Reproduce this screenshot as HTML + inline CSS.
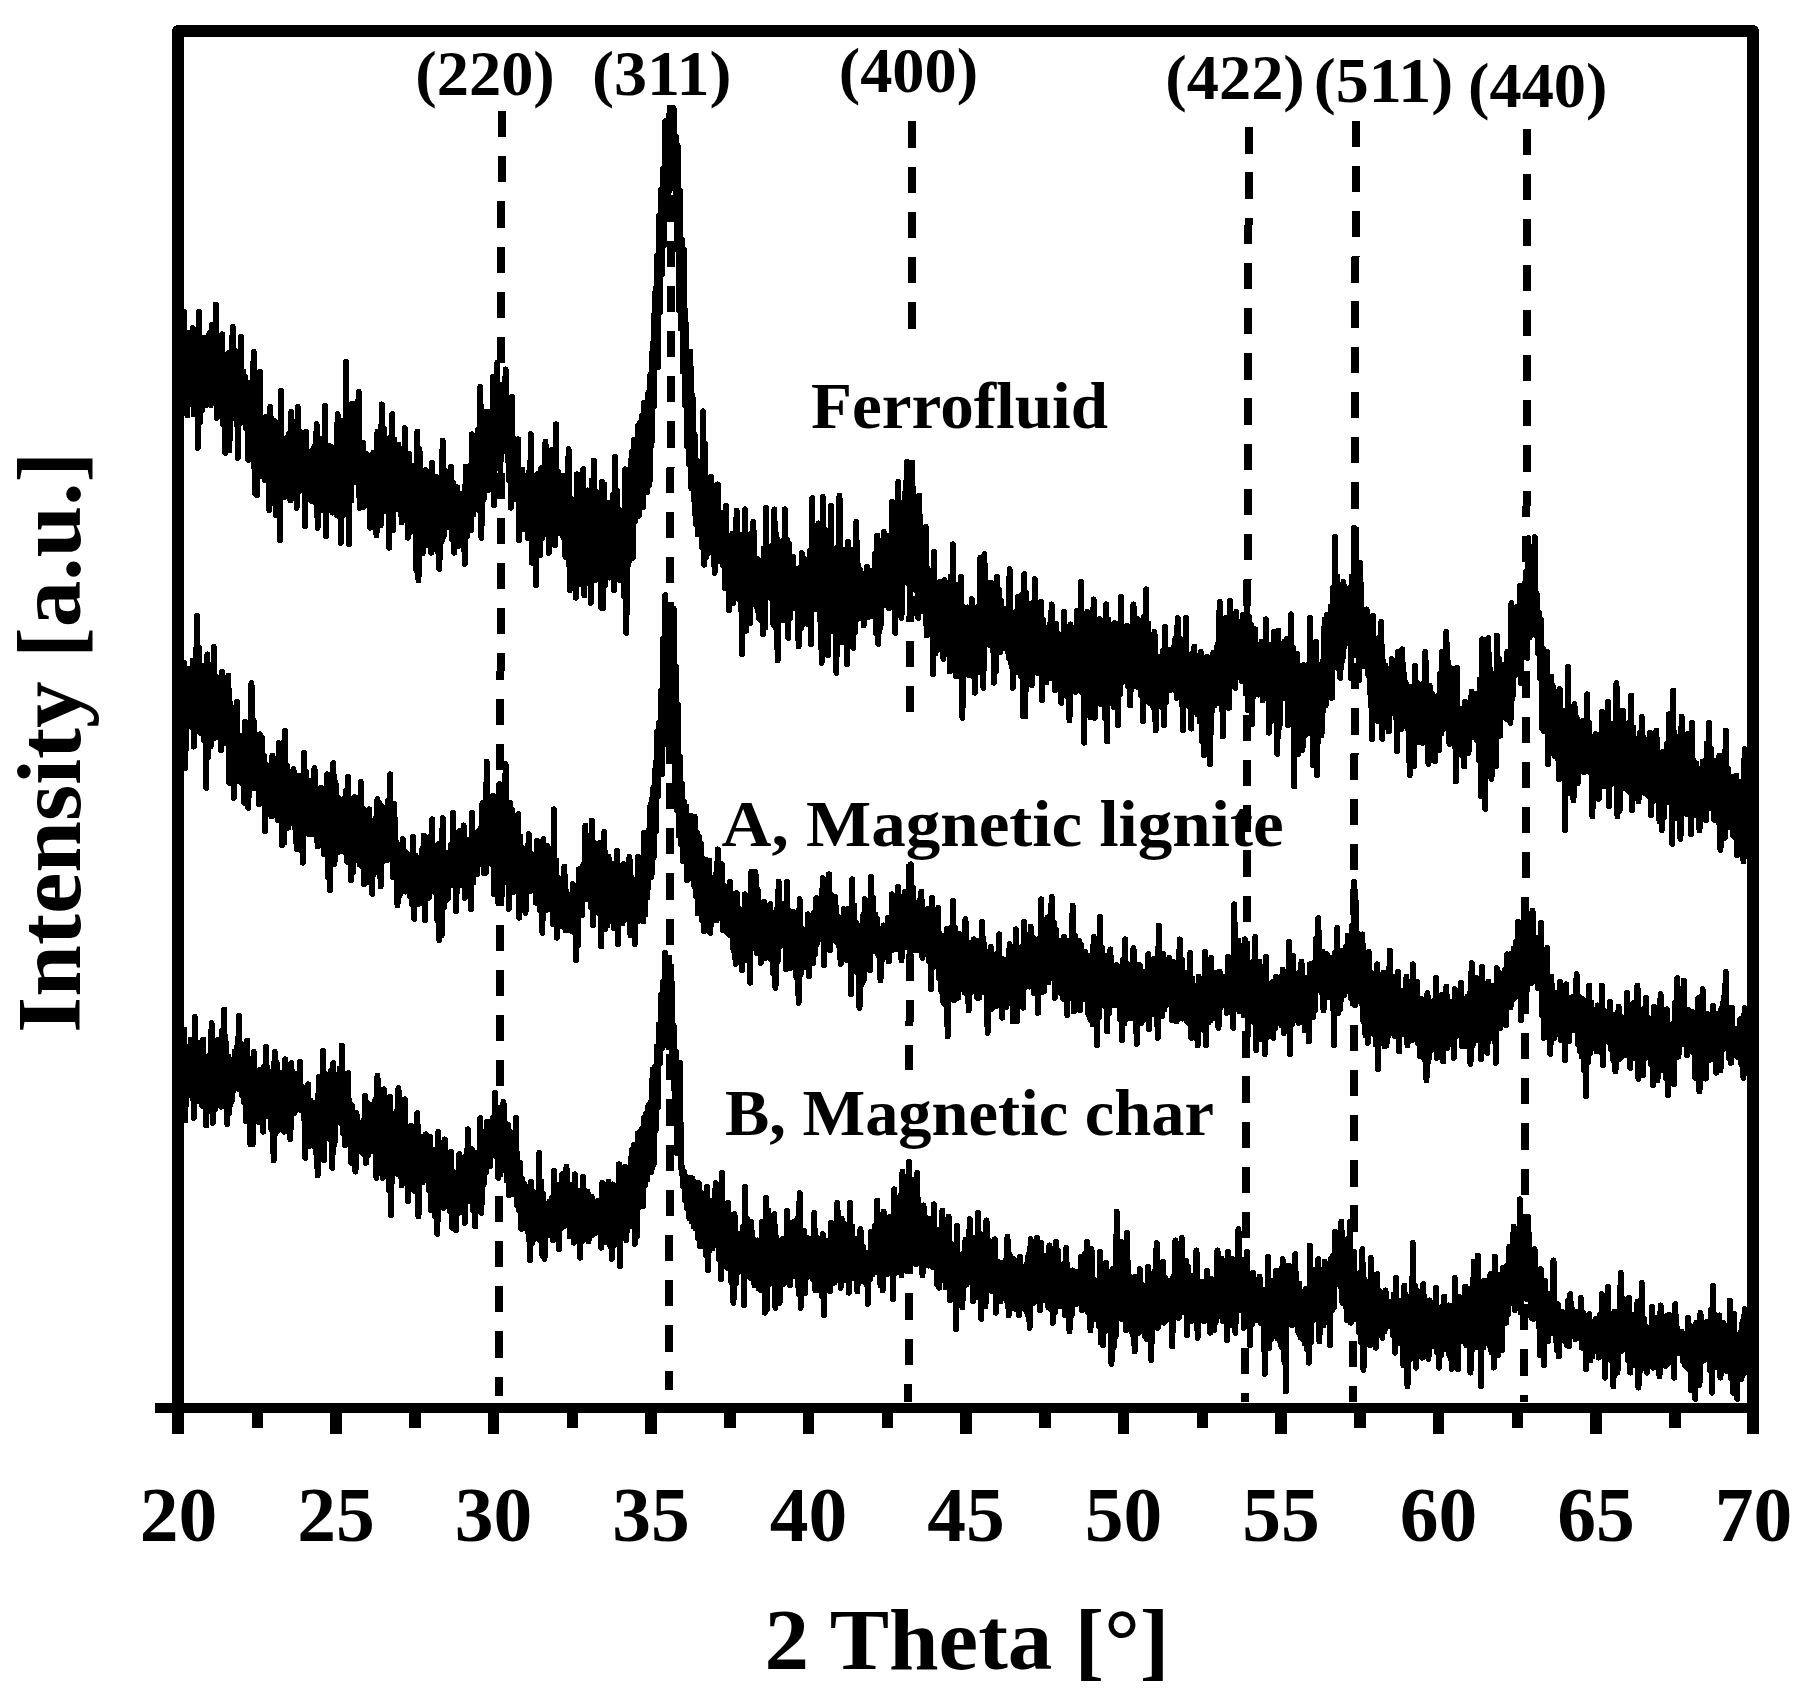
<!DOCTYPE html>
<html lang="en"><head><meta charset="utf-8"><title>XRD patterns</title>
<style>html,body{margin:0;padding:0;background:#fff}svg{display:block}text{font-family:"Liberation Serif","DejaVu Serif",serif;font-weight:bold;fill:#000}</style></head><body>
<svg width="1802" height="1691" viewBox="0 0 1802 1691" shape-rendering="crispEdges">
<rect width="1802" height="1691" fill="#fff"/>
<g stroke="#000" stroke-width="8" stroke-dasharray="26.3 18.9" fill="none">
<line x1="501.7" y1="111.0" x2="499.0" y2="1395.8"/>
<line x1="671.0" y1="105.0" x2="669.3" y2="1390.0"/>
<line x1="912.3" y1="121.5" x2="911.8" y2="328.6"/>
<line x1="910.9" y1="460.2" x2="910.3" y2="712.5"/>
<line x1="909.9" y1="864.1" x2="909.4" y2="1070.5"/>
<line x1="909.1" y1="1203.0" x2="908.4" y2="1402.0"/>
<line x1="1248.8" y1="127.3" x2="1245.2" y2="1402.0"/>
<line x1="1355.8" y1="120.7" x2="1353.2" y2="1402.0"/>
<line x1="1527.5" y1="129.0" x2="1524.2" y2="1402.0"/>
</g>
<g stroke="#000" stroke-width="6" stroke-linejoin="round" stroke-linecap="round" fill="none">
<path d="M178.0,343.6 L179.1,394.9 L180.1,332.8 L181.2,399.6 L182.2,327.1 L183.2,390.1 L184.3,312.0 L185.3,396.3 L186.4,335.9 L187.4,415.3 L188.5,337.8 L189.6,385.2 L190.6,332.6 L191.7,391.2 L192.7,328.1 L193.8,414.4 L194.8,343.7 L195.8,408.4 L196.9,335.5 L197.9,447.8 L199.0,312.0 L200.1,422.4 L201.1,359.4 L202.2,409.9 L203.2,338.2 L204.2,400.6 L205.3,337.5 L206.3,404.9 L207.4,347.3 L208.4,389.5 L209.5,333.3 L210.6,405.1 L211.6,325.1 L212.7,382.6 L213.7,329.6 L214.8,392.7 L215.8,304.5 L216.8,417.8 L217.9,349.9 L218.9,401.1 L220.0,361.2 L221.1,405.8 L222.1,334.4 L223.2,424.9 L224.2,357.7 L225.2,452.8 L226.3,375.3 L227.3,413.0 L228.4,353.0 L229.4,450.3 L230.5,365.0 L231.6,418.8 L232.6,326.9 L233.7,411.4 L234.7,350.3 L235.8,409.2 L236.8,354.3 L237.8,457.8 L238.9,370.5 L239.9,423.2 L241.0,336.9 L242.1,420.0 L243.1,371.4 L244.2,417.9 L245.2,377.2 L246.2,428.9 L247.3,384.8 L248.4,459.9 L249.4,382.9 L250.4,456.4 L251.5,387.1 L252.6,454.9 L253.6,351.9 L254.7,492.8 L255.7,396.3 L256.8,495.3 L257.8,405.1 L258.9,475.4 L259.9,371.9 L260.9,475.7 L262.0,421.6 L263.1,457.1 L264.1,425.9 L265.1,480.2 L266.2,416.5 L267.2,477.2 L268.3,427.8 L269.4,510.2 L270.4,406.9 L271.4,481.5 L272.5,435.8 L273.6,502.4 L274.6,421.0 L275.6,514.9 L276.7,437.4 L277.8,496.4 L278.8,435.4 L279.9,540.2 L280.9,390.6 L281.9,488.1 L283.0,445.2 L284.1,497.2 L285.1,445.6 L286.1,491.4 L287.2,437.6 L288.2,476.4 L289.3,433.8 L290.4,500.3 L291.4,411.9 L292.4,468.5 L293.5,440.1 L294.6,490.6 L295.6,435.0 L296.6,507.8 L297.7,406.9 L298.8,491.3 L299.8,431.4 L300.9,488.9 L301.9,453.6 L302.9,487.9 L304.0,460.1 L305.1,526.5 L306.1,431.8 L307.1,493.1 L308.2,466.5 L309.2,494.6 L310.3,460.6 L311.4,500.9 L312.4,450.2 L313.5,491.2 L314.5,446.5 L315.6,502.3 L316.6,424.3 L317.6,527.7 L318.7,444.4 L319.8,510.2 L320.8,438.7 L321.9,510.5 L322.9,447.3 L324.0,487.4 L325.0,405.6 L326.1,536.5 L327.1,453.8 L328.1,502.1 L329.2,446.3 L330.2,496.5 L331.3,447.1 L332.4,512.6 L333.4,453.1 L334.5,492.9 L335.5,461.3 L336.6,515.0 L337.6,414.3 L338.6,509.5 L339.7,451.2 L340.8,542.7 L341.8,420.8 L342.9,515.4 L343.9,426.5 L345.0,493.6 L346.0,361.9 L347.1,500.3 L348.1,418.1 L349.1,544.0 L350.2,417.9 L351.2,500.7 L352.3,403.8 L353.4,482.4 L354.4,404.1 L355.5,479.2 L356.5,413.4 L357.6,470.4 L358.6,391.9 L359.6,507.8 L360.7,448.1 L361.8,499.4 L362.8,442.6 L363.9,506.9 L364.9,469.9 L366.0,503.7 L367.0,454.3 L368.1,504.5 L369.1,464.0 L370.1,527.7 L371.2,472.6 L372.2,505.1 L373.3,452.9 L374.4,507.0 L375.4,456.2 L376.5,535.2 L377.5,431.8 L378.6,516.8 L379.6,441.7 L380.6,525.2 L381.7,404.4 L382.8,492.5 L383.8,428.5 L384.9,510.8 L385.9,455.1 L387.0,496.4 L388.0,448.2 L389.1,547.7 L390.1,438.1 L391.1,496.2 L392.2,414.3 L393.2,529.8 L394.3,439.6 L395.4,509.0 L396.4,462.7 L397.5,504.1 L398.5,444.8 L399.6,509.2 L400.6,464.1 L401.6,522.2 L402.7,461.8 L403.8,507.8 L404.8,428.1 L405.9,502.9 L406.9,465.4 L408.0,537.7 L409.0,453.6 L410.1,532.0 L411.1,465.7 L412.1,512.5 L413.2,465.6 L414.2,517.6 L415.3,473.8 L416.4,570.2 L417.4,431.8 L418.5,580.2 L419.5,449.3 L420.6,545.8 L421.6,474.5 L422.6,553.1 L423.7,484.2 L424.8,537.9 L425.8,470.1 L426.9,545.0 L427.9,487.3 L429.0,540.9 L430.0,487.3 L431.1,552.7 L432.1,463.0 L433.1,536.6 L434.2,492.9 L435.2,530.8 L436.3,477.3 L437.4,551.2 L438.4,483.9 L439.4,568.9 L440.5,487.9 L441.6,541.1 L442.6,440.6 L443.7,536.1 L444.7,470.6 L445.8,524.7 L446.8,473.3 L447.9,527.5 L448.9,492.5 L449.9,524.4 L451.0,466.8 L452.1,539.0 L453.1,482.8 L454.2,552.7 L455.2,496.7 L456.2,534.4 L457.3,487.4 L458.4,546.2 L459.4,497.7 L460.4,539.0 L461.5,493.7 L462.6,539.4 L463.6,493.0 L464.7,563.9 L465.7,466.8 L466.8,536.4 L467.8,489.4 L468.9,519.6 L469.9,465.6 L470.9,530.2 L472.0,434.3 L473.1,514.6 L474.1,447.7 L475.2,492.7 L476.2,450.8 L477.2,493.6 L478.3,429.2 L479.4,510.8 L480.4,386.9 L481.4,537.7 L482.5,425.3 L483.6,499.3 L484.6,412.1 L485.7,475.7 L486.7,414.2 L487.8,490.4 L488.8,411.5 L489.9,481.9 L490.9,412.3 L491.9,474.5 L493.0,376.9 L494.1,505.3 L495.1,390.0 L496.2,439.8 L497.2,363.1 L498.2,443.7 L499.3,386.3 L500.4,470.3 L501.4,396.8 L502.4,447.3 L503.5,401.3 L504.6,449.5 L505.6,369.4 L506.7,450.4 L507.7,413.7 L508.8,480.3 L509.8,415.4 L510.9,507.8 L511.9,396.9 L513.0,477.1 L514.0,438.9 L515.0,499.1 L516.1,443.6 L517.2,499.8 L518.2,439.3 L519.2,540.2 L520.3,477.2 L521.4,522.8 L522.4,469.6 L523.5,528.9 L524.5,475.4 L525.5,529.4 L526.6,476.0 L527.7,537.8 L528.7,471.8 L529.8,524.5 L530.8,434.3 L531.9,562.7 L532.9,482.4 L534.0,555.6 L535.0,496.0 L536.0,585.2 L537.1,474.3 L538.2,551.7 L539.2,486.5 L540.2,555.2 L541.3,468.4 L542.4,537.9 L543.4,482.9 L544.5,525.5 L545.5,441.8 L546.5,514.2 L547.6,460.7 L548.7,552.7 L549.7,469.2 L550.8,524.2 L551.8,450.1 L552.9,507.5 L553.9,467.8 L555.0,545.2 L556.0,424.3 L557.0,532.5 L558.1,471.6 L559.2,533.3 L560.2,480.6 L561.2,517.4 L562.3,475.7 L563.4,537.4 L564.4,478.6 L565.5,557.0 L566.5,489.2 L567.5,539.6 L568.6,449.3 L569.7,590.2 L570.7,498.3 L571.8,553.0 L572.8,500.8 L573.9,553.1 L574.9,500.1 L576.0,597.7 L577.0,474.3 L578.0,569.1 L579.1,499.2 L580.2,584.2 L581.2,513.4 L582.2,552.3 L583.3,469.3 L584.4,595.2 L585.4,495.0 L586.5,569.4 L587.5,490.4 L588.5,572.1 L589.6,500.4 L590.7,602.7 L591.7,480.4 L592.8,572.3 L593.8,460.6 L594.9,580.1 L595.9,491.9 L597.0,561.7 L598.0,494.1 L599.0,576.9 L600.1,512.1 L601.2,607.7 L602.2,481.8 L603.2,607.8 L604.3,484.4 L605.4,584.7 L606.4,509.4 L607.5,565.6 L608.5,503.1 L609.5,577.6 L610.6,504.7 L611.7,566.3 L612.7,495.3 L613.8,590.3 L614.8,456.9 L615.9,566.3 L616.9,490.4 L618.0,578.0 L619.0,509.8 L620.0,579.9 L621.1,521.5 L622.2,571.4 L623.2,526.4 L624.2,596.5 L625.3,469.4 L626.4,632.8 L627.4,488.2 L628.5,564.7 L629.5,499.6 L630.5,534.4 L631.6,452.0 L632.7,557.8 L633.7,440.0 L634.8,521.2 L635.8,457.5 L636.9,515.2 L637.9,426.1 L639.0,515.7 L640.0,423.0 L641.0,489.9 L642.1,415.3 L643.2,507.0 L644.2,403.0 L645.2,492.0 L646.3,431.8 L647.4,491.8 L648.4,392.8 L649.5,485.1 L650.5,374.2 L651.5,445.4 L652.6,342.9 L653.7,406.7 L654.7,293.4 L655.8,361.6 L656.8,255.9 L657.9,367.3 L658.9,215.9 L660.0,312.4 L661.0,189.9 L662.0,273.9 L663.1,169.0 L664.2,245.0 L665.2,121.2 L666.2,184.7 L667.3,124.9 L668.4,203.7 L669.4,113.8 L670.5,188.2 L671.5,112.7 L672.5,180.0 L673.6,108.3 L674.7,184.1 L675.7,136.4 L676.8,245.4 L677.8,146.0 L678.9,310.3 L679.9,190.7 L681.0,328.7 L682.0,239.8 L683.0,371.7 L684.1,249.9 L685.2,405.8 L686.2,323.8 L687.2,446.6 L688.3,371.9 L689.4,465.0 L690.4,351.7 L691.5,488.5 L692.5,395.3 L693.6,499.6 L694.6,434.6 L695.6,523.9 L696.7,460.1 L697.8,534.5 L698.8,478.3 L699.9,530.7 L700.9,466.6 L702.0,546.9 L703.0,411.4 L704.1,564.6 L705.1,443.7 L706.1,556.8 L707.2,477.9 L708.2,552.8 L709.3,503.4 L710.4,531.1 L711.4,476.9 L712.5,535.4 L713.5,503.8 L714.6,572.8 L715.6,500.1 L716.6,548.6 L717.7,484.4 L718.8,560.9 L719.8,521.1 L720.9,554.6 L721.9,513.3 L723.0,565.2 L724.0,525.3 L725.1,588.0 L726.1,505.6 L727.1,582.4 L728.2,535.8 L729.2,610.3 L730.3,538.8 L731.4,569.9 L732.4,533.9 L733.5,602.8 L734.5,541.0 L735.6,575.6 L736.6,510.6 L737.6,584.1 L738.7,534.2 L739.8,599.5 L740.8,536.0 L741.9,654.0 L742.9,535.0 L744.0,616.7 L745.0,509.4 L746.1,630.7 L747.1,563.1 L748.1,608.4 L749.2,550.6 L750.2,622.8 L751.3,533.3 L752.4,603.9 L753.4,521.9 L754.5,593.5 L755.5,564.3 L756.6,606.7 L757.6,559.1 L758.6,617.8 L759.7,564.3 L760.8,620.1 L761.8,568.6 L762.9,634.0 L763.9,548.4 L765.0,627.8 L766.0,508.1 L767.1,595.5 L768.1,555.8 L769.1,591.6 L770.2,552.6 L771.2,598.0 L772.3,545.1 L773.4,624.6 L774.4,509.4 L775.5,628.0 L776.5,534.9 L777.6,660.2 L778.6,549.8 L779.6,597.8 L780.7,547.4 L781.8,619.7 L782.8,541.1 L783.9,620.4 L784.9,509.4 L786.0,610.9 L787.0,539.5 L788.1,637.8 L789.1,543.7 L790.1,617.8 L791.2,558.8 L792.2,597.4 L793.3,556.8 L794.4,607.8 L795.4,568.4 L796.5,608.6 L797.5,578.8 L798.6,646.5 L799.6,577.2 L800.6,628.9 L801.7,553.1 L802.8,624.8 L803.8,558.9 L804.9,622.4 L805.9,568.1 L807.0,623.6 L808.0,560.0 L809.1,603.4 L810.1,550.7 L811.1,644.0 L812.2,498.2 L813.2,594.4 L814.3,527.7 L815.4,609.0 L816.4,553.6 L817.5,598.8 L818.5,523.5 L819.6,619.4 L820.6,525.4 L821.6,662.7 L822.7,496.9 L823.8,613.0 L824.8,529.9 L825.9,603.7 L826.9,545.7 L828.0,655.2 L829.0,557.8 L830.1,606.3 L831.1,505.6 L832.1,631.0 L833.2,554.1 L834.2,624.4 L835.3,554.9 L836.4,672.7 L837.4,547.2 L838.5,607.4 L839.5,495.7 L840.6,613.8 L841.6,559.8 L842.6,642.3 L843.7,549.7 L844.8,621.3 L845.8,567.3 L846.9,664.0 L847.9,541.9 L849.0,630.5 L850.0,577.1 L851.1,637.2 L852.1,550.2 L853.1,647.8 L854.2,563.7 L855.2,632.2 L856.3,521.9 L857.4,618.7 L858.4,565.3 L859.5,611.8 L860.5,570.3 L861.6,611.1 L862.6,578.5 L863.6,625.3 L864.7,583.7 L865.8,612.6 L866.8,566.8 L867.9,617.5 L868.9,573.9 L870.0,605.2 L871.0,570.9 L872.1,615.9 L873.1,571.9 L874.1,609.9 L875.2,553.7 L876.2,633.0 L877.3,535.6 L878.4,644.0 L879.4,557.0 L880.5,627.8 L881.5,552.0 L882.6,598.3 L883.6,531.9 L884.6,605.2 L885.7,561.3 L886.8,603.4 L887.8,552.9 L888.9,608.2 L889.9,535.4 L891.0,597.9 L892.0,501.9 L893.1,596.8 L894.1,523.7 L895.1,632.8 L896.2,534.2 L897.2,601.3 L898.3,481.9 L899.4,574.5 L900.4,528.7 L901.5,617.8 L902.5,517.8 L903.6,578.6 L904.6,493.8 L905.6,573.7 L906.7,461.9 L907.8,583.0 L908.8,497.7 L909.9,617.8 L910.9,502.3 L912.0,557.1 L913.0,488.2 L914.1,559.3 L915.1,529.0 L916.1,590.3 L917.2,520.0 L918.2,617.8 L919.3,495.7 L920.4,592.4 L921.4,546.4 L922.5,611.3 L923.5,542.7 L924.6,596.6 L925.6,526.9 L926.6,635.3 L927.7,568.9 L928.8,625.7 L929.8,577.5 L930.9,632.1 L931.9,591.2 L933.0,674.0 L934.0,551.9 L935.1,653.7 L936.1,585.8 L937.1,650.5 L938.2,595.4 L939.2,646.1 L940.3,581.8 L941.4,642.8 L942.4,597.7 L943.5,659.0 L944.5,580.2 L945.6,638.2 L946.6,583.2 L947.6,642.5 L948.7,583.9 L949.8,671.5 L950.8,576.7 L951.9,652.3 L952.9,544.4 L954.0,636.8 L955.0,588.6 L956.1,675.9 L957.1,584.5 L958.1,666.2 L959.2,611.3 L960.2,676.0 L961.3,576.8 L962.4,717.7 L963.4,630.9 L964.5,664.0 L965.5,622.8 L966.6,662.9 L967.6,607.4 L968.6,674.9 L969.7,626.6 L970.8,665.2 L971.8,599.3 L972.9,675.9 L973.9,621.0 L975.0,692.7 L976.0,611.8 L977.1,672.7 L978.1,606.9 L979.1,632.6 L980.2,558.1 L981.2,656.6 L982.3,580.7 L983.4,687.7 L984.4,554.3 L985.5,640.1 L986.5,595.7 L987.6,643.4 L988.6,586.9 L989.7,645.0 L990.7,582.5 L991.8,646.1 L992.8,598.9 L993.9,682.7 L994.9,598.7 L996.0,671.3 L997.0,576.8 L998.1,649.0 L999.1,589.8 L1000.2,652.0 L1001.2,601.0 L1002.2,648.5 L1003.3,613.1 L1004.4,647.0 L1005.4,609.2 L1006.5,648.8 L1007.5,610.9 L1008.6,657.8 L1009.6,569.3 L1010.7,662.6 L1011.7,613.8 L1012.8,687.7 L1013.8,612.6 L1014.9,664.2 L1015.9,612.2 L1017.0,671.7 L1018.0,597.1 L1019.1,666.7 L1020.1,618.9 L1021.2,676.8 L1022.2,594.3 L1023.2,716.4 L1024.3,574.3 L1025.3,716.4 L1026.4,593.0 L1027.5,671.3 L1028.5,621.0 L1029.6,655.4 L1030.6,611.9 L1031.7,685.2 L1032.7,603.2 L1033.8,667.7 L1034.8,579.3 L1035.8,661.8 L1036.9,614.6 L1038.0,672.8 L1039.0,627.4 L1040.1,670.6 L1041.1,601.9 L1042.2,700.3 L1043.2,620.2 L1044.2,670.5 L1045.3,636.3 L1046.3,682.4 L1047.4,636.6 L1048.5,676.1 L1049.5,624.7 L1050.6,678.1 L1051.6,604.4 L1052.7,661.7 L1053.7,623.3 L1054.8,690.3 L1055.8,623.5 L1056.8,680.1 L1057.9,634.0 L1059.0,678.7 L1060.0,636.5 L1061.1,702.8 L1062.1,635.1 L1063.2,679.0 L1064.2,611.9 L1065.2,671.9 L1066.3,636.7 L1067.3,696.6 L1068.4,654.0 L1069.5,720.3 L1070.5,624.4 L1071.6,686.6 L1072.6,642.1 L1073.7,685.4 L1074.7,647.4 L1075.8,691.9 L1076.8,611.1 L1077.8,676.4 L1078.9,617.5 L1080.0,660.7 L1081.0,581.9 L1082.1,692.8 L1083.1,627.7 L1084.2,742.7 L1085.2,623.7 L1086.2,700.9 L1087.3,611.9 L1088.3,697.0 L1089.4,646.6 L1090.5,717.5 L1091.5,641.0 L1092.6,689.4 L1093.6,599.4 L1094.7,717.8 L1095.7,622.9 L1096.8,677.6 L1097.8,645.2 L1098.8,703.0 L1099.9,619.2 L1101.0,704.3 L1102.0,634.5 L1103.1,690.6 L1104.1,646.4 L1105.2,718.4 L1106.2,604.4 L1107.2,741.5 L1108.3,619.7 L1109.3,691.0 L1110.4,631.1 L1111.5,699.8 L1112.5,625.1 L1113.6,706.9 L1114.6,623.0 L1115.7,699.0 L1116.7,623.5 L1117.8,725.3 L1118.8,625.5 L1119.8,694.6 L1120.9,596.9 L1122.0,682.4 L1123.0,634.8 L1124.1,679.8 L1125.1,642.5 L1126.2,674.2 L1127.2,625.7 L1128.2,686.9 L1129.3,632.8 L1130.3,705.3 L1131.4,631.5 L1132.5,682.4 L1133.5,604.4 L1134.6,685.7 L1135.6,640.7 L1136.7,685.7 L1137.7,619.1 L1138.8,687.4 L1139.8,629.3 L1140.8,695.1 L1141.9,629.9 L1143.0,721.5 L1144.0,616.4 L1145.1,680.6 L1146.1,589.4 L1147.2,696.4 L1148.2,623.5 L1149.2,702.7 L1150.3,634.7 L1151.3,693.4 L1152.4,643.7 L1153.5,707.7 L1154.5,631.9 L1155.6,730.2 L1156.6,659.5 L1157.7,701.3 L1158.7,656.5 L1159.8,695.7 L1160.8,658.0 L1161.8,707.3 L1162.9,650.6 L1164.0,725.3 L1165.0,626.9 L1166.1,702.3 L1167.1,656.5 L1168.2,690.5 L1169.2,649.8 L1170.2,689.8 L1171.3,653.2 L1172.3,681.1 L1173.4,647.8 L1174.5,680.9 L1175.5,638.6 L1176.6,697.8 L1177.6,618.1 L1178.7,673.0 L1179.7,638.7 L1180.8,693.1 L1181.8,652.3 L1182.8,730.2 L1183.9,652.7 L1185.0,695.6 L1186.0,618.1 L1187.1,689.6 L1188.1,661.7 L1189.2,706.3 L1190.2,656.9 L1191.2,728.6 L1192.3,653.5 L1193.3,711.5 L1194.4,646.5 L1195.5,712.2 L1196.5,668.9 L1197.6,714.5 L1198.6,685.6 L1199.7,721.5 L1200.7,651.8 L1201.8,740.7 L1202.8,678.4 L1203.9,755.2 L1204.9,675.7 L1206.0,733.6 L1207.0,656.8 L1208.0,728.1 L1209.1,670.3 L1210.2,764.0 L1211.2,671.5 L1212.2,711.3 L1213.3,653.0 L1214.4,705.5 L1215.4,655.7 L1216.5,698.7 L1217.5,644.9 L1218.5,703.5 L1219.6,601.9 L1220.7,697.1 L1221.7,643.4 L1222.8,736.5 L1223.8,635.6 L1224.9,686.5 L1225.9,617.8 L1227.0,694.0 L1228.0,627.8 L1229.0,707.8 L1230.1,600.6 L1231.2,681.5 L1232.2,638.5 L1233.2,667.8 L1234.3,638.2 L1235.4,687.8 L1236.4,611.9 L1237.5,675.2 L1238.5,623.1 L1239.5,676.7 L1240.6,626.7 L1241.7,681.1 L1242.7,615.0 L1243.8,681.0 L1244.8,630.4 L1245.9,692.9 L1246.9,581.9 L1248.0,710.3 L1249.0,617.1 L1250.0,686.7 L1251.1,624.6 L1252.2,724.0 L1253.2,644.9 L1254.2,688.8 L1255.3,629.4 L1256.4,694.2 L1257.4,648.3 L1258.5,694.6 L1259.5,658.6 L1260.5,691.3 L1261.6,641.6 L1262.7,700.3 L1263.7,653.8 L1264.8,691.2 L1265.8,619.4 L1266.9,693.9 L1267.9,658.8 L1269.0,732.7 L1270.0,645.4 L1271.0,721.2 L1272.1,657.6 L1273.2,713.8 L1274.2,631.9 L1275.2,715.3 L1276.3,666.2 L1277.4,754.0 L1278.4,630.6 L1279.5,727.8 L1280.5,652.5 L1281.5,696.3 L1282.6,661.2 L1283.7,695.4 L1284.7,641.6 L1285.8,698.6 L1286.8,639.1 L1287.9,725.3 L1288.9,641.3 L1290.0,702.3 L1291.0,614.4 L1292.0,684.6 L1293.1,647.8 L1294.2,786.4 L1295.2,669.6 L1296.2,736.0 L1297.3,654.3 L1298.4,754.0 L1299.4,701.2 L1300.5,743.1 L1301.5,666.0 L1302.5,749.7 L1303.6,665.0 L1304.7,735.5 L1305.7,680.5 L1306.8,724.4 L1307.8,674.9 L1308.9,732.9 L1309.9,618.1 L1311.0,716.8 L1312.0,681.6 L1313.0,765.2 L1314.1,672.6 L1315.2,723.9 L1316.2,641.8 L1317.2,775.2 L1318.3,668.4 L1319.4,713.0 L1320.4,665.5 L1321.5,735.2 L1322.5,661.9 L1323.5,710.8 L1324.6,619.4 L1325.7,705.2 L1326.7,615.1 L1327.8,697.3 L1328.8,627.2 L1329.9,666.7 L1330.9,606.4 L1332.0,697.8 L1333.0,588.1 L1334.0,650.9 L1335.1,536.9 L1336.2,651.8 L1337.2,576.5 L1338.2,668.0 L1339.3,585.0 L1340.4,677.8 L1341.4,605.7 L1342.5,660.6 L1343.5,581.9 L1344.5,647.0 L1345.6,598.1 L1346.7,636.1 L1347.7,594.5 L1348.8,629.9 L1349.8,587.9 L1350.9,677.8 L1351.9,576.3 L1353.0,626.1 L1354.0,528.2 L1355.0,654.8 L1356.1,529.5 L1357.2,650.3 L1358.2,597.0 L1359.2,680.3 L1360.3,563.2 L1361.4,662.3 L1362.4,614.5 L1363.5,665.9 L1364.5,627.2 L1365.5,659.5 L1366.6,609.4 L1367.7,673.4 L1368.7,634.8 L1369.8,692.8 L1370.8,650.6 L1371.9,739.0 L1372.9,615.6 L1374.0,703.6 L1375.0,649.8 L1376.0,693.9 L1377.1,657.7 L1378.2,721.1 L1379.2,637.8 L1380.2,710.7 L1381.3,621.9 L1382.4,739.0 L1383.4,661.5 L1384.5,706.3 L1385.5,665.6 L1386.5,723.6 L1387.6,672.7 L1388.7,731.5 L1389.7,671.2 L1390.8,707.6 L1391.8,659.3 L1392.9,713.2 L1393.9,684.6 L1395.0,711.1 L1396.0,686.6 L1397.0,751.5 L1398.1,651.9 L1399.2,723.2 L1400.2,682.6 L1401.2,729.0 L1402.3,649.4 L1403.4,714.5 L1404.4,674.8 L1405.5,721.6 L1406.5,684.8 L1407.5,728.7 L1408.6,699.8 L1409.7,775.2 L1410.7,686.8 L1411.8,759.1 L1412.8,692.4 L1413.9,766.5 L1414.9,665.6 L1416.0,734.5 L1417.0,682.3 L1418.0,742.3 L1419.1,685.0 L1420.2,725.9 L1421.2,688.5 L1422.2,742.8 L1423.3,683.3 L1424.4,723.5 L1425.4,651.9 L1426.5,729.5 L1427.5,698.5 L1428.5,764.0 L1429.6,685.9 L1430.7,736.1 L1431.7,693.1 L1432.8,746.1 L1433.8,706.4 L1434.9,761.5 L1435.9,699.1 L1437.0,743.5 L1438.0,695.8 L1439.0,750.2 L1440.1,673.3 L1441.2,733.7 L1442.2,651.9 L1443.2,728.9 L1444.3,667.9 L1445.4,706.2 L1446.4,631.9 L1447.5,726.3 L1448.5,662.7 L1449.5,744.0 L1450.6,676.2 L1451.7,723.3 L1452.7,669.2 L1453.8,738.7 L1454.8,689.5 L1455.9,781.5 L1456.9,668.1 L1458.0,744.1 L1459.0,714.0 L1460.0,744.9 L1461.1,709.4 L1462.2,755.5 L1463.2,720.6 L1464.2,766.5 L1465.3,701.8 L1466.4,740.3 L1467.4,721.2 L1468.5,752.7 L1469.5,714.0 L1470.5,733.8 L1471.6,691.8 L1472.7,737.4 L1473.7,708.5 L1474.8,732.8 L1475.8,698.1 L1476.9,739.9 L1477.9,693.5 L1479.0,759.8 L1480.0,679.3 L1481.0,796.5 L1482.1,639.4 L1483.2,758.0 L1484.2,670.9 L1485.2,808.9 L1486.3,699.2 L1487.4,758.1 L1488.4,638.1 L1489.5,770.7 L1490.5,669.2 L1491.5,778.8 L1492.6,683.9 L1493.7,753.7 L1494.7,688.3 L1495.8,766.5 L1496.8,635.6 L1497.9,732.0 L1498.9,658.5 L1500.0,735.8 L1501.0,670.5 L1502.0,709.4 L1503.1,664.5 L1504.2,715.5 L1505.2,672.7 L1506.2,718.7 L1507.3,651.9 L1508.4,712.8 L1509.4,652.4 L1510.5,722.8 L1511.5,603.1 L1512.5,698.6 L1513.6,621.6 L1514.7,675.5 L1515.7,621.6 L1516.8,667.4 L1517.8,606.7 L1518.9,652.0 L1519.9,585.7 L1521.0,682.8 L1522.0,606.1 L1523.0,657.2 L1524.1,594.9 L1525.2,632.2 L1526.2,571.8 L1527.2,657.8 L1528.3,538.2 L1529.4,637.5 L1530.4,571.6 L1531.5,634.9 L1532.5,564.9 L1533.5,632.3 L1534.6,537.0 L1535.7,629.2 L1536.7,594.0 L1537.8,652.8 L1538.8,612.6 L1539.9,678.1 L1540.9,619.4 L1542.0,727.8 L1543.0,649.0 L1544.0,731.5 L1545.1,658.1 L1546.2,707.0 L1547.2,651.9 L1548.2,764.0 L1549.3,683.6 L1550.4,729.3 L1551.4,676.8 L1552.5,734.1 L1553.5,687.1 L1554.5,756.1 L1555.6,700.4 L1556.7,743.4 L1557.7,708.6 L1558.8,779.0 L1559.8,689.3 L1560.9,751.1 L1561.9,715.5 L1563.0,778.5 L1564.0,711.0 L1565.0,830.2 L1566.1,723.5 L1567.2,789.0 L1568.2,666.8 L1569.2,793.3 L1570.3,732.4 L1571.4,773.8 L1572.4,721.5 L1573.5,800.2 L1574.5,704.3 L1575.5,773.4 L1576.6,717.5 L1577.7,783.1 L1578.7,723.0 L1579.8,758.8 L1580.8,731.4 L1581.9,758.7 L1582.9,720.8 L1584.0,772.0 L1585.0,722.3 L1586.0,752.6 L1587.1,694.3 L1588.2,761.9 L1589.2,722.8 L1590.2,772.7 L1591.3,739.9 L1592.4,816.4 L1593.4,752.1 L1594.5,790.8 L1595.5,734.3 L1596.5,795.0 L1597.6,747.9 L1598.7,798.9 L1599.7,746.1 L1600.8,780.0 L1601.8,711.8 L1602.9,786.3 L1603.9,728.1 L1605.0,784.6 L1606.0,735.1 L1607.0,786.6 L1608.1,701.8 L1609.2,806.4 L1610.2,736.2 L1611.2,784.0 L1612.3,724.0 L1613.4,774.3 L1614.4,725.5 L1615.5,768.2 L1616.5,683.1 L1617.5,816.4 L1618.6,714.5 L1619.7,810.2 L1620.7,735.1 L1621.8,778.0 L1622.8,710.5 L1623.9,788.4 L1624.9,735.9 L1626.0,783.9 L1627.0,727.7 L1628.0,790.1 L1629.1,722.6 L1630.2,792.7 L1631.2,695.6 L1632.2,810.2 L1633.3,727.4 L1634.4,773.1 L1635.4,740.4 L1636.5,787.5 L1637.5,740.5 L1638.5,801.4 L1639.6,733.4 L1640.7,786.7 L1641.7,716.8 L1642.8,781.7 L1643.8,738.0 L1644.9,793.5 L1645.9,740.0 L1647.0,794.0 L1648.0,750.8 L1649.0,796.6 L1650.1,733.0 L1651.2,815.2 L1652.2,751.3 L1653.2,800.8 L1654.3,749.5 L1655.4,799.4 L1656.4,730.5 L1657.5,799.7 L1658.5,755.8 L1659.5,821.4 L1660.6,761.8 L1661.7,830.2 L1662.7,751.8 L1663.8,817.2 L1664.8,754.6 L1665.9,798.0 L1666.9,744.0 L1668.0,785.2 L1669.0,714.3 L1670.0,802.7 L1671.1,740.8 L1672.2,843.9 L1673.2,690.6 L1674.2,815.2 L1675.3,738.3 L1676.4,818.5 L1677.4,737.4 L1678.5,812.5 L1679.5,758.2 L1680.5,838.9 L1681.6,716.8 L1682.7,803.8 L1683.7,761.7 L1684.8,807.5 L1685.8,754.9 L1686.9,814.1 L1687.9,733.6 L1689.0,802.1 L1690.0,749.5 L1691.0,833.9 L1692.1,723.0 L1693.2,815.7 L1694.2,764.1 L1695.2,796.9 L1696.3,763.4 L1697.4,810.8 L1698.4,773.6 L1699.5,830.2 L1700.5,773.9 L1701.5,814.5 L1702.6,761.7 L1703.7,805.1 L1704.7,761.0 L1705.8,820.2 L1706.8,743.7 L1707.9,804.8 L1708.9,723.0 L1710.0,807.9 L1711.0,748.7 L1712.0,794.0 L1713.1,760.3 L1714.2,819.9 L1715.2,763.9 L1716.2,817.1 L1717.3,777.3 L1718.4,822.4 L1719.4,755.5 L1720.5,850.1 L1721.5,768.6 L1722.5,806.7 L1723.6,767.5 L1724.7,837.7 L1725.7,730.5 L1726.8,804.2 L1727.8,768.1 L1728.9,827.3 L1729.9,784.7 L1731.0,813.6 L1732.0,777.3 L1733.0,835.2 L1734.1,798.1 L1735.2,837.5 L1736.2,775.5 L1737.2,855.1 L1738.3,794.0 L1739.4,830.8 L1740.4,781.9 L1741.5,841.3 L1742.5,785.7 L1743.5,861.4 L1744.6,749.3 L1745.7,847.0 L1746.7,779.0 L1747.8,827.2 L1748.8,784.7 L1749.9,820.5 L1750.9,790.3 L1752.0,842.7 L1753.0,773.2"/>
<path d="M178.0,689.9 L179.1,734.6 L180.1,688.8 L181.2,747.3 L182.2,699.3 L183.2,748.5 L184.3,663.2 L185.3,767.8 L186.4,682.0 L187.4,724.8 L188.5,668.6 L189.6,723.5 L190.6,671.3 L191.7,727.2 L192.7,660.6 L193.8,746.6 L194.8,663.8 L195.8,706.0 L196.9,615.7 L197.9,714.8 L199.0,647.8 L200.1,732.8 L201.1,665.4 L202.2,731.9 L203.2,682.9 L204.2,740.0 L205.3,681.1 L206.3,787.8 L207.4,654.4 L208.4,756.7 L209.5,682.1 L210.6,746.1 L211.6,686.6 L212.7,732.9 L213.7,646.9 L214.8,737.9 L215.8,676.3 L216.8,716.3 L217.9,683.6 L218.9,737.6 L220.0,688.8 L221.1,750.3 L222.1,671.9 L223.2,736.9 L224.2,691.8 L225.2,743.5 L226.3,692.0 L227.3,741.4 L228.4,675.7 L229.4,782.8 L230.5,703.6 L231.6,772.5 L232.6,726.0 L233.7,797.8 L234.7,733.4 L235.8,773.8 L236.8,701.9 L237.8,781.2 L238.9,741.6 L239.9,768.4 L241.0,735.9 L242.1,783.7 L243.1,742.7 L244.2,802.8 L245.2,721.9 L246.2,773.8 L247.3,726.0 L248.4,807.8 L249.4,724.5 L250.4,768.5 L251.5,683.2 L252.6,784.2 L253.6,720.3 L254.7,788.5 L255.7,738.0 L256.8,780.9 L257.8,743.6 L258.9,804.4 L259.9,734.4 L260.9,795.8 L262.0,738.1 L263.1,803.1 L264.1,755.9 L265.1,831.5 L266.2,765.1 L267.2,803.7 L268.3,771.2 L269.4,801.8 L270.4,767.4 L271.4,816.5 L272.5,755.6 L273.6,815.0 L274.6,777.9 L275.6,815.3 L276.7,762.8 L277.8,819.7 L278.8,743.1 L279.9,812.7 L280.9,751.1 L281.9,845.2 L283.0,742.8 L284.1,842.7 L285.1,730.6 L286.1,809.6 L287.2,765.9 L288.2,827.6 L289.3,785.8 L290.4,823.2 L291.4,790.8 L292.4,822.6 L293.5,769.3 L294.6,828.0 L295.6,795.3 L296.6,849.0 L297.7,797.9 L298.8,841.2 L299.8,775.6 L300.9,850.2 L301.9,794.4 L302.9,862.7 L304.0,753.1 L305.1,816.3 L306.1,771.9 L307.1,814.7 L308.2,787.6 L309.2,834.2 L310.3,781.2 L311.4,830.2 L312.4,790.8 L313.5,834.1 L314.5,768.1 L315.6,829.6 L316.6,795.7 L317.6,846.5 L318.7,800.9 L319.8,827.7 L320.8,787.9 L321.9,845.6 L322.9,803.2 L324.0,853.9 L325.0,792.2 L326.1,840.9 L327.1,774.3 L328.1,877.7 L329.2,802.3 L330.2,890.2 L331.3,784.3 L332.4,844.4 L333.4,763.1 L334.5,864.0 L335.5,782.3 L336.6,844.8 L337.6,797.5 L338.6,852.0 L339.7,799.1 L340.8,851.1 L341.8,802.8 L342.9,845.1 L343.9,798.9 L345.0,852.1 L346.0,791.1 L347.1,861.6 L348.1,776.8 L349.1,848.3 L350.2,798.9 L351.2,880.2 L352.3,807.1 L353.4,871.9 L354.4,797.2 L355.5,852.1 L356.5,811.4 L357.6,850.5 L358.6,809.8 L359.6,864.3 L360.7,781.8 L361.8,865.8 L362.8,808.4 L363.9,884.0 L364.9,825.3 L366.0,861.0 L367.0,819.3 L368.1,882.4 L369.1,809.3 L370.1,866.7 L371.2,836.8 L372.2,893.9 L373.3,836.3 L374.4,863.8 L375.4,818.3 L376.5,872.2 L377.5,799.3 L378.6,864.9 L379.6,803.9 L380.6,886.5 L381.7,806.4 L382.8,861.4 L383.8,811.8 L384.9,841.8 L385.9,810.2 L387.0,860.2 L388.0,801.1 L389.1,833.4 L390.1,774.3 L391.1,853.9 L392.2,820.4 L393.2,877.5 L394.3,804.3 L395.4,873.2 L396.4,841.9 L397.5,905.2 L398.5,845.0 L399.6,895.2 L400.6,847.6 L401.6,881.4 L402.7,839.3 L403.8,887.1 L404.8,851.2 L405.9,891.6 L406.9,853.3 L408.0,891.7 L409.0,863.7 L410.1,896.1 L411.1,855.2 L412.1,904.2 L413.2,836.8 L414.2,918.9 L415.3,855.7 L416.4,892.9 L417.4,863.6 L418.5,904.1 L419.5,867.1 L420.6,903.1 L421.6,850.0 L422.6,900.7 L423.7,835.5 L424.8,920.2 L425.8,855.6 L426.9,882.1 L427.9,848.6 L429.0,897.7 L430.0,837.2 L431.1,879.7 L432.1,819.3 L433.1,878.9 L434.2,853.8 L435.2,892.6 L436.3,862.9 L437.4,920.1 L438.4,844.2 L439.4,940.1 L440.5,852.9 L441.6,935.2 L442.6,818.0 L443.7,907.8 L444.7,855.5 L445.8,900.4 L446.8,853.0 L447.9,898.5 L448.9,853.0 L449.9,880.7 L451.0,845.2 L452.1,885.3 L453.1,813.0 L454.2,874.6 L455.2,840.3 L456.2,911.4 L457.3,848.7 L458.4,885.3 L459.4,831.1 L460.4,885.1 L461.5,846.7 L462.6,880.6 L463.6,825.5 L464.7,897.7 L465.7,841.3 L466.8,877.2 L467.8,839.5 L468.9,872.8 L469.9,844.1 L470.9,908.9 L472.0,813.0 L473.1,882.7 L474.1,837.0 L475.2,869.4 L476.2,833.4 L477.2,874.3 L478.3,831.6 L479.4,855.0 L480.4,828.9 L481.4,854.5 L482.5,803.0 L483.6,872.7 L484.6,809.6 L485.7,872.7 L486.7,761.8 L487.8,842.9 L488.8,806.6 L489.9,848.1 L490.9,813.2 L491.9,864.1 L493.0,795.5 L494.1,893.9 L495.1,819.7 L496.2,863.7 L497.2,807.4 L498.2,902.7 L499.3,784.3 L500.4,883.9 L501.4,805.1 L502.4,895.2 L503.5,794.6 L504.6,871.2 L505.6,764.3 L506.7,869.5 L507.7,818.3 L508.8,908.9 L509.8,802.6 L510.9,884.5 L511.9,809.3 L513.0,892.1 L514.0,823.3 L515.0,887.2 L516.1,831.2 L517.2,881.8 L518.2,814.3 L519.2,917.7 L520.3,836.5 L521.4,890.2 L522.4,848.0 L523.5,884.8 L524.5,853.3 L525.5,912.7 L526.6,852.9 L527.7,884.1 L528.7,834.3 L529.8,891.1 L530.8,853.3 L531.9,888.6 L532.9,859.7 L534.0,890.4 L535.0,857.1 L536.0,902.7 L537.1,840.5 L538.2,897.3 L539.2,859.6 L540.2,910.7 L541.3,868.8 L542.4,932.7 L543.4,839.3 L544.5,902.6 L545.5,860.2 L546.5,910.1 L547.6,846.3 L548.7,908.7 L549.7,859.9 L550.8,895.9 L551.8,855.5 L552.9,923.9 L553.9,809.3 L555.0,915.3 L556.0,860.2 L557.0,937.7 L558.1,878.0 L559.2,916.6 L560.2,894.0 L561.2,925.8 L562.3,887.7 L563.4,923.8 L564.4,866.7 L565.5,930.2 L566.5,891.1 L567.5,925.2 L568.6,894.4 L569.7,930.1 L570.7,908.1 L571.8,931.3 L572.8,884.2 L573.9,931.8 L574.9,900.0 L576.0,960.1 L577.0,890.0 L578.0,945.1 L579.1,869.2 L580.2,915.1 L581.2,870.0 L582.2,915.2 L583.3,865.0 L584.4,891.0 L585.4,825.5 L586.5,899.0 L587.5,848.5 L588.5,892.3 L589.6,851.2 L590.7,907.0 L591.7,820.5 L592.8,925.2 L593.8,842.1 L594.9,911.2 L595.9,857.3 L597.0,900.0 L598.0,866.9 L599.0,912.8 L600.1,842.5 L601.2,946.5 L602.2,866.2 L603.2,924.9 L604.3,831.9 L605.4,928.7 L606.4,870.2 L607.5,925.2 L608.5,856.7 L609.5,910.7 L610.6,864.9 L611.7,908.7 L612.7,877.3 L613.8,927.8 L614.8,863.5 L615.9,924.9 L616.9,850.6 L618.0,944.0 L619.0,877.0 L620.0,918.7 L621.1,869.2 L622.2,923.5 L623.2,864.2 L624.2,920.1 L625.3,878.8 L626.4,916.2 L627.4,877.7 L628.5,916.7 L629.5,856.9 L630.5,935.3 L631.6,877.4 L632.7,928.8 L633.7,879.8 L634.8,944.0 L635.8,885.5 L636.9,920.0 L637.9,856.9 L639.0,920.7 L640.0,862.6 L641.0,902.7 L642.1,863.3 L643.2,921.5 L644.2,832.8 L645.2,914.6 L646.3,833.1 L647.4,897.5 L648.4,830.8 L649.5,878.1 L650.5,804.9 L651.5,877.1 L652.6,789.8 L653.7,857.2 L654.7,770.5 L655.8,831.7 L656.8,731.9 L657.9,796.1 L658.9,722.7 L660.0,767.7 L661.0,691.2 L662.0,774.1 L663.1,638.8 L664.2,743.8 L665.2,595.2 L666.2,744.2 L667.3,625.6 L668.4,743.0 L669.4,626.1 L670.5,727.7 L671.5,620.1 L672.5,746.6 L673.6,608.8 L674.7,782.8 L675.7,666.3 L676.8,810.3 L677.8,704.4 L678.9,835.7 L679.9,756.3 L681.0,844.6 L682.0,784.0 L683.0,861.2 L684.1,801.7 L685.2,853.9 L686.2,806.5 L687.2,880.3 L688.3,821.3 L689.4,878.0 L690.4,815.5 L691.5,877.3 L692.5,829.3 L693.6,884.8 L694.6,816.9 L695.6,895.7 L696.7,832.7 L697.8,913.4 L698.8,836.1 L699.9,909.5 L700.9,843.9 L702.0,920.6 L703.0,859.1 L704.1,931.0 L705.1,862.7 L706.1,924.6 L707.2,860.4 L708.2,930.0 L709.3,860.6 L710.4,932.8 L711.4,885.2 L712.5,918.4 L713.5,881.9 L714.6,908.5 L715.6,874.4 L716.6,920.3 L717.7,849.4 L718.8,899.3 L719.8,874.5 L720.9,906.3 L721.9,864.4 L723.0,930.3 L724.0,885.8 L725.1,925.3 L726.1,894.8 L727.1,932.4 L728.2,891.3 L729.2,934.9 L730.3,881.8 L731.4,932.8 L732.4,898.3 L733.5,950.3 L734.5,912.7 L735.6,964.0 L736.6,893.1 L737.6,952.0 L738.7,908.3 L739.8,948.2 L740.8,914.6 L741.9,970.2 L742.9,912.2 L744.0,951.0 L745.0,894.3 L746.1,960.4 L747.1,899.1 L748.1,943.1 L749.2,895.9 L750.2,982.7 L751.3,871.9 L752.4,939.9 L753.4,888.5 L754.5,944.0 L755.5,871.9 L756.6,952.8 L757.6,889.8 L758.6,937.0 L759.7,910.1 L760.8,962.8 L761.8,914.3 L762.9,949.2 L763.9,901.8 L765.0,957.9 L766.0,917.2 L767.1,955.6 L768.1,927.2 L769.1,954.9 L770.2,904.3 L771.2,959.7 L772.3,923.4 L773.4,974.0 L774.4,923.6 L775.5,987.7 L776.5,909.9 L777.6,961.6 L778.6,881.8 L779.6,946.7 L780.7,903.1 L781.8,945.3 L782.8,904.1 L783.9,944.2 L784.9,909.1 L786.0,969.0 L787.0,881.8 L788.1,943.3 L789.1,910.8 L790.1,968.0 L791.2,918.3 L792.2,955.7 L793.3,911.8 L794.4,956.8 L795.4,919.9 L796.5,977.7 L797.5,927.4 L798.6,1002.7 L799.6,899.3 L800.6,974.4 L801.7,928.2 L802.8,960.6 L803.8,933.5 L804.9,967.1 L805.9,930.7 L807.0,961.0 L808.0,914.3 L809.1,976.5 L810.1,922.8 L811.1,958.2 L812.2,927.5 L813.2,962.8 L814.3,912.3 L815.4,953.9 L816.4,898.1 L817.5,942.4 L818.5,903.6 L819.6,936.1 L820.6,912.1 L821.6,939.4 L822.7,878.1 L823.8,965.3 L824.8,899.2 L825.9,941.9 L826.9,895.8 L828.0,927.9 L829.0,874.3 L830.1,950.3 L831.1,894.6 L832.1,926.8 L833.2,908.7 L834.2,937.6 L835.3,896.8 L836.4,941.9 L837.4,919.9 L838.5,945.3 L839.5,917.5 L840.6,964.0 L841.6,917.7 L842.6,953.0 L843.7,909.3 L844.8,957.1 L845.8,914.9 L846.9,960.0 L847.9,908.8 L849.0,959.4 L850.0,921.6 L851.1,994.0 L852.1,879.3 L853.1,971.0 L854.2,905.6 L855.2,958.9 L856.3,923.3 L857.4,972.4 L858.4,931.7 L859.5,1007.7 L860.5,944.7 L861.6,984.7 L862.6,916.8 L863.6,980.2 L864.7,899.3 L865.8,968.9 L866.8,920.6 L867.9,947.2 L868.9,903.8 L870.0,970.2 L871.0,876.8 L872.1,944.8 L873.1,897.7 L874.1,951.3 L875.2,914.6 L876.2,950.8 L877.3,918.9 L878.4,955.4 L879.4,932.0 L880.5,980.2 L881.5,935.2 L882.6,959.3 L883.6,925.5 L884.6,955.8 L885.7,930.4 L886.8,956.1 L887.8,918.1 L888.9,961.5 L889.9,918.6 L891.0,941.4 L892.0,894.3 L893.1,949.6 L894.1,908.4 L895.1,947.7 L896.2,915.1 L897.2,948.7 L898.3,886.8 L899.4,949.7 L900.4,896.5 L901.5,960.3 L902.5,910.3 L903.6,935.2 L904.6,892.1 L905.6,946.8 L906.7,892.2 L907.8,946.2 L908.8,901.4 L909.9,975.2 L910.9,864.4 L912.0,943.6 L913.0,887.5 L914.1,950.1 L915.1,905.3 L916.1,949.2 L917.2,906.0 L918.2,950.1 L919.3,901.0 L920.4,942.4 L921.4,891.8 L922.5,957.8 L923.5,911.0 L924.6,944.9 L925.6,911.1 L926.6,948.9 L927.7,909.2 L928.8,960.9 L929.8,914.1 L930.9,989.0 L931.9,898.1 L933.0,967.4 L934.0,916.3 L935.1,960.9 L936.1,934.3 L937.1,963.7 L938.2,908.1 L939.2,978.6 L940.3,942.1 L941.4,991.5 L942.4,936.0 L943.5,1002.9 L944.5,941.0 L945.6,1004.3 L946.6,929.3 L947.6,1036.4 L948.7,951.0 L949.8,989.0 L950.8,928.1 L951.9,977.3 L952.9,900.6 L954.0,1000.2 L955.0,927.9 L956.1,982.5 L957.1,942.1 L958.1,997.7 L959.2,934.3 L960.2,983.7 L961.3,954.9 L962.4,985.5 L963.4,941.8 L964.5,992.3 L965.5,919.3 L966.6,993.8 L967.6,947.3 L968.6,1010.2 L969.7,942.5 L970.8,992.6 L971.8,958.5 L972.9,986.9 L973.9,939.3 L975.0,979.9 L976.0,956.1 L977.1,997.7 L978.1,940.8 L979.1,997.7 L980.2,944.2 L981.2,976.6 L982.3,921.8 L983.4,992.2 L984.4,944.3 L985.5,988.4 L986.5,955.7 L987.6,1032.7 L988.6,958.6 L989.7,999.6 L990.7,946.8 L991.8,1008.7 L992.8,974.3 L993.9,997.8 L994.9,972.3 L996.0,1006.3 L997.0,953.9 L998.1,997.0 L999.1,934.3 L1000.2,1005.0 L1001.2,966.2 L1002.2,1017.7 L1003.3,959.4 L1004.4,1001.7 L1005.4,967.0 L1006.5,1006.7 L1007.5,962.4 L1008.6,993.6 L1009.6,944.3 L1010.7,998.5 L1011.7,962.7 L1012.8,1021.4 L1013.8,954.5 L1014.9,989.8 L1015.9,929.3 L1017.0,1021.4 L1018.0,954.5 L1019.1,991.5 L1020.1,956.4 L1021.2,1000.4 L1022.2,946.5 L1023.2,1007.7 L1024.3,921.8 L1025.3,987.2 L1026.4,946.7 L1027.5,983.1 L1028.5,939.9 L1029.6,986.6 L1030.6,926.8 L1031.7,978.9 L1032.7,937.6 L1033.8,992.7 L1034.8,947.1 L1035.8,984.1 L1036.9,943.6 L1038.0,1012.8 L1039.0,938.9 L1040.1,979.1 L1041.1,899.4 L1042.2,992.4 L1043.2,923.6 L1044.2,990.9 L1045.3,933.6 L1046.3,966.5 L1047.4,917.4 L1048.5,982.4 L1049.5,927.5 L1050.6,968.6 L1051.6,896.9 L1052.7,963.7 L1053.7,922.2 L1054.8,997.8 L1055.8,929.5 L1056.8,983.6 L1057.9,941.8 L1059.0,987.2 L1060.0,940.6 L1061.1,993.0 L1062.1,961.5 L1063.2,998.6 L1064.2,936.9 L1065.2,996.2 L1066.3,957.0 L1067.3,1015.3 L1068.4,941.3 L1069.5,979.0 L1070.5,946.4 L1071.6,983.5 L1072.6,905.6 L1073.7,1011.5 L1074.7,935.6 L1075.8,978.6 L1076.8,951.3 L1077.8,980.8 L1078.9,940.9 L1080.0,1010.3 L1081.0,944.4 L1082.1,992.6 L1083.1,965.4 L1084.2,999.1 L1085.2,951.9 L1086.2,997.4 L1087.3,962.2 L1088.3,1014.1 L1089.4,955.9 L1090.5,1020.1 L1091.5,962.0 L1092.6,1024.2 L1093.6,936.9 L1094.7,1014.6 L1095.7,949.2 L1096.8,1045.3 L1097.8,947.3 L1098.8,1017.8 L1099.9,916.9 L1101.0,996.2 L1102.0,947.3 L1103.1,992.4 L1104.1,955.3 L1105.2,1006.7 L1106.2,966.6 L1107.2,1031.5 L1108.3,970.2 L1109.3,1013.2 L1110.4,949.4 L1111.5,1005.3 L1112.5,964.9 L1113.6,1005.2 L1114.6,966.9 L1115.7,1003.4 L1116.7,965.0 L1117.8,1004.7 L1118.8,967.0 L1119.8,1018.8 L1120.9,975.7 L1122.0,1040.3 L1123.0,960.2 L1124.1,1023.6 L1125.1,939.4 L1126.2,1018.8 L1127.2,964.2 L1128.2,1018.5 L1129.3,979.5 L1130.3,1017.7 L1131.4,969.7 L1132.5,1018.5 L1133.5,948.1 L1134.6,1017.9 L1135.6,980.9 L1136.7,1044.0 L1137.7,964.8 L1138.8,1008.6 L1139.8,965.4 L1140.8,1023.5 L1141.9,979.5 L1143.0,1019.9 L1144.0,972.3 L1145.1,1003.7 L1146.1,980.4 L1147.2,1012.1 L1148.2,954.3 L1149.2,1029.0 L1150.3,969.8 L1151.3,1014.6 L1152.4,959.5 L1153.5,1014.0 L1154.5,958.7 L1155.6,1014.9 L1156.6,970.8 L1157.7,1037.8 L1158.7,925.6 L1159.8,1011.1 L1160.8,953.8 L1161.8,1016.3 L1162.9,954.1 L1164.0,1009.8 L1165.0,964.7 L1166.1,1004.8 L1167.1,967.5 L1168.2,997.2 L1169.2,958.1 L1170.2,1000.1 L1171.3,972.0 L1172.3,1020.3 L1173.4,962.3 L1174.5,1008.6 L1175.5,965.3 L1176.6,1021.5 L1177.6,966.5 L1178.7,997.5 L1179.7,939.4 L1180.8,1003.5 L1181.8,959.6 L1182.8,1018.6 L1183.9,973.3 L1185.0,1007.0 L1186.0,972.7 L1187.1,1020.9 L1188.1,974.4 L1189.2,1023.8 L1190.2,953.1 L1191.2,1037.8 L1192.3,978.4 L1193.3,1019.2 L1194.4,988.2 L1195.5,1024.6 L1196.5,993.0 L1197.6,1045.3 L1198.6,976.8 L1199.7,1022.1 L1200.7,995.2 L1201.8,1028.7 L1202.8,980.6 L1203.9,1030.0 L1204.9,951.9 L1206.0,1045.3 L1207.0,968.2 L1208.0,1022.8 L1209.1,983.7 L1210.2,1020.6 L1211.2,958.1 L1212.2,1001.0 L1213.3,973.4 L1214.4,1018.2 L1215.4,973.2 L1216.5,1017.1 L1217.5,987.1 L1218.5,1027.8 L1219.6,971.8 L1220.7,1007.1 L1221.7,988.6 L1222.8,1004.1 L1223.8,977.0 L1224.9,999.2 L1225.9,978.5 L1227.0,1012.8 L1228.0,956.8 L1229.0,997.5 L1230.1,964.7 L1231.2,1002.8 L1232.2,961.8 L1233.2,1027.8 L1234.3,904.4 L1235.4,1000.3 L1236.4,954.1 L1237.5,996.6 L1238.5,940.9 L1239.5,1011.5 L1240.6,953.6 L1241.7,1002.7 L1242.7,945.6 L1243.8,1015.5 L1244.8,939.4 L1245.9,1009.3 L1246.9,973.6 L1248.0,1035.3 L1249.0,967.8 L1250.0,1015.4 L1251.1,966.4 L1252.2,998.8 L1253.2,961.4 L1254.2,1022.8 L1255.3,936.9 L1256.4,1050.2 L1257.4,972.6 L1258.5,1029.1 L1259.5,961.8 L1260.5,1039.2 L1261.6,983.8 L1262.7,1020.1 L1263.7,984.6 L1264.8,1054.0 L1265.8,956.8 L1266.9,1037.1 L1267.9,988.8 L1269.0,1018.5 L1270.0,986.1 L1271.0,1024.7 L1272.1,982.4 L1273.2,1037.8 L1274.2,985.3 L1275.2,1028.3 L1276.3,976.8 L1277.4,1015.8 L1278.4,986.2 L1279.5,1022.7 L1280.5,978.0 L1281.5,1025.4 L1282.6,969.6 L1283.7,1033.1 L1284.7,984.6 L1285.8,1021.8 L1286.8,972.2 L1287.9,1029.0 L1288.9,941.9 L1290.0,1054.0 L1291.0,969.4 L1292.0,1024.0 L1293.1,956.1 L1294.2,1009.4 L1295.2,978.4 L1296.2,1018.1 L1297.3,974.1 L1298.4,1022.7 L1299.4,972.2 L1300.5,1014.1 L1301.5,961.8 L1302.5,1022.6 L1303.6,985.8 L1304.7,1030.3 L1305.7,984.3 L1306.8,1023.3 L1307.8,977.6 L1308.9,1041.5 L1309.9,964.3 L1311.0,1013.1 L1312.0,980.9 L1313.0,1017.1 L1314.1,962.5 L1315.2,1010.3 L1316.2,939.0 L1317.2,987.6 L1318.3,918.1 L1319.4,982.2 L1320.4,951.8 L1321.5,992.7 L1322.5,951.7 L1323.5,1010.3 L1324.6,966.9 L1325.7,991.4 L1326.7,954.3 L1327.8,997.4 L1328.8,966.9 L1329.9,993.6 L1330.9,957.6 L1332.0,995.1 L1333.0,972.5 L1334.0,1045.3 L1335.1,952.4 L1336.2,1003.2 L1337.2,928.1 L1338.2,1013.0 L1339.3,965.1 L1340.4,1009.0 L1341.4,950.5 L1342.5,994.8 L1343.5,959.6 L1344.5,995.0 L1345.6,947.8 L1346.7,985.0 L1347.7,935.6 L1348.8,977.6 L1349.8,941.1 L1350.9,997.8 L1351.9,926.0 L1353.0,989.2 L1354.0,881.9 L1355.0,1005.3 L1356.1,901.6 L1357.2,991.2 L1358.2,933.7 L1359.2,987.2 L1360.3,946.9 L1361.4,1003.6 L1362.4,934.4 L1363.5,1021.6 L1364.5,975.4 L1365.5,1035.3 L1366.6,963.6 L1367.7,1042.8 L1368.7,951.9 L1369.8,1010.3 L1370.8,972.8 L1371.9,1020.1 L1372.9,975.0 L1374.0,1034.4 L1375.0,995.5 L1376.0,1044.7 L1377.1,964.4 L1378.2,1069.0 L1379.2,991.7 L1380.2,1036.0 L1381.3,997.8 L1382.4,1033.3 L1383.4,972.7 L1384.5,1046.4 L1385.5,983.3 L1386.5,1045.3 L1387.6,987.4 L1388.7,1035.2 L1389.7,950.6 L1390.8,1017.1 L1391.8,980.0 L1392.9,1033.1 L1393.9,977.1 L1395.0,1036.2 L1396.0,992.1 L1397.0,1027.2 L1398.1,971.9 L1399.2,1051.5 L1400.2,995.4 L1401.2,1034.7 L1402.3,991.4 L1403.4,1034.1 L1404.4,991.2 L1405.5,1032.0 L1406.5,976.8 L1407.5,1045.3 L1408.6,992.3 L1409.7,1026.1 L1410.7,986.7 L1411.8,1040.3 L1412.8,964.4 L1413.9,1026.7 L1414.9,988.3 L1416.0,1028.4 L1417.0,981.8 L1418.0,1043.0 L1419.1,1009.3 L1420.2,1056.5 L1421.2,999.3 L1422.2,1040.3 L1423.3,1013.7 L1424.4,1059.6 L1425.4,1010.4 L1426.5,1080.2 L1427.5,993.1 L1428.5,1061.3 L1429.6,1006.2 L1430.7,1050.8 L1431.7,1013.9 L1432.8,1039.8 L1433.8,1000.7 L1434.9,1046.8 L1435.9,978.1 L1437.0,1057.8 L1438.0,1002.8 L1439.0,1049.3 L1440.1,1007.2 L1441.2,1042.7 L1442.2,994.6 L1443.2,1061.5 L1444.3,1009.9 L1445.4,1035.7 L1446.4,986.8 L1447.5,1047.8 L1448.5,1011.2 L1449.5,1037.7 L1450.6,1002.2 L1451.7,1038.3 L1452.7,1010.5 L1453.8,1057.8 L1454.8,989.3 L1455.9,1036.7 L1456.9,1009.5 L1458.0,1028.1 L1459.0,992.1 L1460.0,1028.4 L1461.1,983.1 L1462.2,1046.5 L1463.2,1008.7 L1464.2,1037.7 L1465.3,1011.3 L1466.4,1046.3 L1467.4,996.8 L1468.5,1032.6 L1469.5,993.8 L1470.5,1064.0 L1471.6,963.1 L1472.7,1045.3 L1473.7,981.9 L1474.8,1031.3 L1475.8,977.5 L1476.9,1040.2 L1477.9,993.6 L1479.0,1023.9 L1480.0,983.7 L1481.0,1059.0 L1482.1,966.9 L1483.2,1048.8 L1484.2,992.8 L1485.2,1041.7 L1486.3,1000.8 L1487.4,1052.8 L1488.4,981.8 L1489.5,1028.4 L1490.5,1006.5 L1491.5,1033.4 L1492.6,985.9 L1493.7,1038.9 L1494.7,991.2 L1495.8,1062.8 L1496.8,968.1 L1497.9,1025.3 L1498.9,973.0 L1500.0,1028.2 L1501.0,987.5 L1502.0,1017.5 L1503.1,986.4 L1504.2,1010.6 L1505.2,969.8 L1506.2,1025.3 L1507.3,954.4 L1508.4,1006.0 L1509.4,969.2 L1510.5,1007.5 L1511.5,953.7 L1512.5,999.9 L1513.6,948.8 L1514.7,997.7 L1515.7,941.9 L1516.8,994.7 L1517.8,921.9 L1518.9,993.6 L1519.9,938.9 L1521.0,1020.3 L1522.0,935.5 L1523.0,976.0 L1524.1,904.4 L1525.2,976.2 L1526.2,924.6 L1527.2,990.3 L1528.3,936.7 L1529.4,962.4 L1530.4,936.0 L1531.5,982.8 L1532.5,910.7 L1533.5,960.8 L1534.6,941.7 L1535.7,981.2 L1536.7,937.6 L1537.8,988.2 L1538.8,949.1 L1539.9,981.5 L1540.9,923.1 L1542.0,1015.3 L1543.0,959.4 L1544.0,1037.8 L1545.1,968.8 L1546.2,1021.4 L1547.2,948.1 L1548.2,1028.1 L1549.3,981.6 L1550.4,1054.0 L1551.4,976.8 L1552.5,1035.6 L1553.5,992.6 L1554.5,1038.0 L1555.6,997.4 L1556.7,1025.7 L1557.7,992.8 L1558.8,1025.4 L1559.8,981.8 L1560.9,1040.3 L1561.9,1000.7 L1563.0,1025.5 L1564.0,998.1 L1565.0,1060.3 L1566.1,984.3 L1567.2,1033.4 L1568.2,998.2 L1569.2,1041.0 L1570.3,1005.6 L1571.4,1030.3 L1572.4,997.2 L1573.5,1027.5 L1574.5,1001.0 L1575.5,1024.3 L1576.6,974.3 L1577.7,1044.0 L1578.7,996.6 L1579.8,1050.8 L1580.8,1009.5 L1581.9,1056.7 L1582.9,999.3 L1584.0,1070.6 L1585.0,1020.7 L1586.0,1096.5 L1587.1,1011.6 L1588.2,1061.8 L1589.2,985.6 L1590.2,1052.8 L1591.3,1002.7 L1592.4,1039.6 L1593.4,1009.9 L1594.5,1039.4 L1595.5,1010.1 L1596.5,1051.4 L1597.6,1005.4 L1598.7,1046.9 L1599.7,1013.4 L1600.8,1052.1 L1601.8,985.6 L1602.9,1065.3 L1603.9,1010.3 L1605.0,1037.7 L1606.0,1014.5 L1607.0,1041.3 L1608.1,1020.1 L1609.2,1042.3 L1610.2,1001.8 L1611.2,1049.4 L1612.3,1014.7 L1613.4,1060.3 L1614.4,1020.8 L1615.5,1071.5 L1616.5,1023.4 L1617.5,1053.6 L1618.6,1006.8 L1619.7,1058.8 L1620.7,1016.1 L1621.8,1056.5 L1622.8,1019.5 L1623.9,1047.8 L1624.9,1022.5 L1626.0,1055.3 L1627.0,993.1 L1628.0,1052.2 L1629.1,1014.5 L1630.2,1067.8 L1631.2,1018.2 L1632.2,1047.9 L1633.3,1003.3 L1634.4,1057.7 L1635.4,1020.1 L1636.5,1056.9 L1637.5,985.6 L1638.5,1079.0 L1639.6,1018.1 L1640.7,1059.4 L1641.7,1019.5 L1642.8,1075.2 L1643.8,1009.2 L1644.9,1058.6 L1645.9,998.1 L1647.0,1056.0 L1648.0,1017.3 L1649.0,1055.0 L1650.1,1022.6 L1651.2,1064.1 L1652.2,1028.0 L1653.2,1085.2 L1654.3,1006.8 L1655.4,1072.4 L1656.4,1027.1 L1657.5,1080.2 L1658.5,1015.8 L1659.5,1049.7 L1660.6,994.3 L1661.7,1069.9 L1662.7,1024.1 L1663.8,1070.2 L1664.8,1033.7 L1665.9,1078.2 L1666.9,1009.3 L1668.0,1095.2 L1669.0,1036.0 L1670.0,1072.9 L1671.1,1026.3 L1672.2,1059.6 L1673.2,1024.0 L1674.2,1084.0 L1675.3,1002.5 L1676.4,1057.5 L1677.4,978.1 L1678.5,1056.2 L1679.5,1011.6 L1680.5,1043.6 L1681.6,1002.6 L1682.7,1043.7 L1683.7,980.6 L1684.8,1029.0 L1685.8,1011.0 L1686.9,1055.3 L1687.9,1009.8 L1689.0,1045.4 L1690.0,1015.2 L1691.0,1038.2 L1692.1,1011.8 L1693.2,1052.8 L1694.2,1023.1 L1695.2,1077.7 L1696.3,1015.4 L1697.4,1048.2 L1698.4,998.1 L1699.5,1091.5 L1700.5,1018.2 L1701.5,1060.2 L1702.6,989.3 L1703.7,1064.4 L1704.7,1024.4 L1705.8,1078.6 L1706.8,1013.9 L1707.9,1058.1 L1708.9,1022.7 L1710.0,1059.6 L1711.0,1018.1 L1712.0,1058.9 L1713.1,1005.6 L1714.2,1057.9 L1715.2,1019.1 L1716.2,1072.7 L1717.3,1014.3 L1718.4,1050.2 L1719.4,1025.9 L1720.5,1070.2 L1721.5,1008.1 L1722.5,1049.4 L1723.6,996.9 L1724.7,1034.5 L1725.7,971.9 L1726.8,1047.8 L1727.8,1007.4 L1728.9,1057.8 L1729.9,1010.5 L1731.0,1062.8 L1732.0,1008.1 L1733.0,1053.8 L1734.1,1028.6 L1735.2,1048.9 L1736.2,1029.3 L1737.2,1056.6 L1738.3,1031.3 L1739.4,1054.6 L1740.4,1019.1 L1741.5,1064.8 L1742.5,1030.5 L1743.5,1077.7 L1744.6,1008.1 L1745.7,1053.2 L1746.7,1022.2 L1747.8,1055.0 L1748.8,1029.4 L1749.9,1065.9 L1750.9,1032.1 L1752.0,1053.7 L1753.0,1021.3"/>
<path d="M178.0,1059.4 L179.1,1111.5 L180.1,1062.1 L181.2,1089.1 L182.2,1063.1 L183.2,1104.4 L184.3,1029.5 L185.3,1120.4 L186.4,1052.0 L187.4,1087.3 L188.5,1051.9 L189.6,1094.9 L190.6,1039.6 L191.7,1088.0 L192.7,1050.9 L193.8,1117.9 L194.8,1017.0 L195.8,1093.7 L196.9,1050.6 L197.9,1101.3 L199.0,1043.0 L200.1,1097.9 L201.1,1048.1 L202.2,1105.8 L203.2,1039.5 L204.2,1099.0 L205.3,1056.4 L206.3,1125.4 L207.4,1062.9 L208.4,1104.8 L209.5,1055.8 L210.6,1098.1 L211.6,1023.2 L212.7,1122.9 L213.7,1040.6 L214.8,1109.2 L215.8,1043.3 L216.8,1100.7 L217.9,1040.2 L218.9,1095.2 L220.0,1044.0 L221.1,1106.6 L222.1,1030.9 L223.2,1081.7 L224.2,1009.5 L225.2,1087.4 L226.3,1042.9 L227.3,1124.1 L228.4,1056.7 L229.4,1112.9 L230.5,1059.4 L231.6,1101.8 L232.6,1062.6 L233.7,1090.1 L234.7,1051.8 L235.8,1081.0 L236.8,1047.5 L237.8,1072.3 L238.9,1015.7 L239.9,1089.7 L241.0,1044.0 L242.1,1095.4 L243.1,1052.2 L244.2,1102.3 L245.2,1056.3 L246.2,1121.2 L247.3,1040.7 L248.4,1116.7 L249.4,1068.8 L250.4,1144.1 L251.5,1079.3 L252.6,1144.1 L253.6,1051.9 L254.7,1120.4 L255.7,1071.5 L256.8,1116.3 L257.8,1075.1 L258.9,1121.9 L259.9,1069.6 L260.9,1114.6 L262.0,1075.8 L263.1,1131.6 L264.1,1066.3 L265.1,1116.7 L266.2,1046.9 L267.2,1102.1 L268.3,1072.8 L269.4,1114.1 L270.4,1084.3 L271.4,1129.4 L272.5,1071.6 L273.6,1160.3 L274.6,1051.9 L275.6,1133.3 L276.7,1062.9 L277.8,1130.2 L278.8,1072.2 L279.9,1128.0 L280.9,1088.3 L281.9,1124.2 L283.0,1072.8 L284.1,1131.6 L285.1,1059.4 L286.1,1121.1 L287.2,1076.6 L288.2,1122.7 L289.3,1088.0 L290.4,1139.1 L291.4,1063.2 L292.4,1110.5 L293.5,1082.5 L294.6,1112.9 L295.6,1074.1 L296.6,1099.5 L297.7,1079.3 L298.8,1099.7 L299.8,1061.9 L300.9,1110.2 L301.9,1086.9 L302.9,1109.1 L304.0,1090.4 L305.1,1157.8 L306.1,1089.9 L307.1,1136.6 L308.2,1084.4 L309.2,1146.1 L310.3,1100.7 L311.4,1142.9 L312.4,1107.1 L313.5,1140.7 L314.5,1102.9 L315.6,1152.8 L316.6,1102.6 L317.6,1175.3 L318.7,1076.9 L319.8,1145.2 L320.8,1094.3 L321.9,1151.6 L322.9,1050.7 L324.0,1160.3 L325.0,1073.9 L326.1,1127.9 L327.1,1080.9 L328.1,1124.5 L329.2,1084.5 L330.2,1139.3 L331.3,1070.7 L332.4,1167.8 L333.4,1063.2 L334.5,1144.4 L335.5,1090.0 L336.6,1121.2 L337.6,1088.9 L338.6,1113.7 L339.7,1068.8 L340.8,1122.8 L341.8,1045.7 L342.9,1133.1 L343.9,1083.0 L345.0,1145.3 L346.0,1086.6 L347.1,1140.5 L348.1,1073.2 L349.1,1133.4 L350.2,1104.0 L351.2,1162.8 L352.3,1105.9 L353.4,1152.7 L354.4,1119.0 L355.5,1171.6 L356.5,1113.1 L357.6,1152.0 L358.6,1127.1 L359.6,1146.2 L360.7,1123.6 L361.8,1152.0 L362.8,1121.7 L363.9,1154.4 L364.9,1095.6 L366.0,1162.8 L367.0,1102.4 L368.1,1154.9 L369.1,1112.1 L370.1,1141.1 L371.2,1105.2 L372.2,1151.2 L373.3,1112.8 L374.4,1148.6 L375.4,1099.9 L376.5,1177.8 L377.5,1075.7 L378.6,1147.3 L379.6,1098.6 L380.6,1166.2 L381.7,1099.9 L382.8,1177.8 L383.8,1089.4 L384.9,1162.2 L385.9,1120.6 L387.0,1175.5 L388.0,1134.4 L389.1,1190.2 L390.1,1096.9 L391.1,1215.3 L392.2,1132.5 L393.2,1165.5 L394.3,1123.0 L395.4,1172.2 L396.4,1111.9 L397.5,1174.1 L398.5,1088.2 L399.6,1166.3 L400.6,1111.4 L401.6,1185.3 L402.7,1114.0 L403.8,1158.9 L404.8,1099.4 L405.9,1182.6 L406.9,1131.7 L408.0,1201.5 L409.0,1129.0 L410.1,1175.3 L411.1,1125.6 L412.1,1182.5 L413.2,1147.5 L414.2,1190.9 L415.3,1148.4 L416.4,1188.3 L417.4,1113.1 L418.5,1216.5 L419.5,1136.5 L420.6,1177.3 L421.6,1153.0 L422.6,1182.1 L423.7,1137.0 L424.8,1173.5 L425.8,1134.4 L426.9,1179.7 L427.9,1141.8 L429.0,1190.3 L430.0,1136.9 L431.1,1210.3 L432.1,1154.0 L433.1,1207.3 L434.2,1150.1 L435.2,1216.6 L436.3,1158.0 L437.4,1234.0 L438.4,1131.9 L439.4,1204.9 L440.5,1145.4 L441.6,1196.6 L442.6,1164.7 L443.7,1207.8 L444.7,1139.4 L445.8,1203.2 L446.8,1160.9 L447.9,1205.3 L448.9,1164.9 L449.9,1211.3 L451.0,1151.8 L452.1,1227.8 L453.1,1172.1 L454.2,1200.3 L455.2,1180.5 L456.2,1230.3 L457.3,1179.1 L458.4,1212.4 L459.4,1154.3 L460.4,1212.3 L461.5,1170.8 L462.6,1205.0 L463.6,1158.3 L464.7,1222.8 L465.7,1155.8 L466.8,1196.2 L467.8,1129.4 L468.9,1199.0 L469.9,1163.9 L470.9,1201.5 L472.0,1149.3 L473.1,1210.8 L474.1,1165.2 L475.2,1226.5 L476.2,1153.1 L477.2,1187.8 L478.3,1156.7 L479.4,1193.3 L480.4,1118.1 L481.4,1212.8 L482.5,1143.3 L483.6,1184.1 L484.6,1136.9 L485.7,1172.6 L486.7,1121.9 L487.8,1162.4 L488.8,1133.4 L489.9,1166.5 L490.9,1122.1 L491.9,1155.6 L493.0,1118.0 L494.1,1148.4 L495.1,1093.1 L496.2,1156.8 L497.2,1117.0 L498.2,1177.8 L499.3,1116.3 L500.4,1153.9 L501.4,1118.5 L502.4,1163.4 L503.5,1101.9 L504.6,1164.1 L505.6,1132.9 L506.7,1180.3 L507.7,1124.4 L508.8,1195.3 L509.8,1131.9 L510.9,1188.9 L511.9,1134.9 L513.0,1193.6 L514.0,1137.5 L515.0,1183.2 L516.1,1118.1 L517.2,1205.2 L518.2,1164.3 L519.2,1210.3 L520.3,1163.1 L521.4,1229.0 L522.4,1179.1 L523.5,1227.8 L524.5,1184.1 L525.5,1223.5 L526.6,1186.4 L527.7,1231.3 L528.7,1190.1 L529.8,1260.2 L530.8,1181.8 L531.9,1242.9 L532.9,1191.6 L534.0,1239.6 L535.0,1200.8 L536.0,1236.4 L537.1,1192.5 L538.2,1232.7 L539.2,1153.1 L540.2,1240.1 L541.3,1181.4 L542.4,1255.2 L543.4,1194.3 L544.5,1259.0 L545.5,1207.7 L546.5,1232.3 L547.6,1205.2 L548.7,1234.9 L549.7,1201.4 L550.8,1232.5 L551.8,1198.1 L552.9,1240.2 L553.9,1170.6 L555.0,1220.4 L556.0,1185.9 L557.0,1221.5 L558.1,1185.2 L559.2,1249.0 L560.2,1184.5 L561.2,1228.3 L562.3,1174.3 L563.4,1226.3 L564.4,1187.0 L565.5,1215.9 L566.5,1166.8 L567.5,1225.6 L568.6,1184.5 L569.7,1236.5 L570.7,1184.7 L571.8,1230.9 L572.8,1191.2 L573.9,1242.7 L574.9,1174.3 L576.0,1239.3 L577.0,1191.1 L578.0,1230.1 L579.1,1197.8 L580.2,1257.7 L581.2,1190.8 L582.2,1241.3 L583.3,1176.8 L584.4,1233.4 L585.4,1200.5 L586.5,1227.2 L587.5,1191.6 L588.5,1241.5 L589.6,1210.0 L590.7,1229.4 L591.7,1196.8 L592.8,1234.7 L593.8,1202.7 L594.9,1233.0 L595.9,1204.3 L597.0,1225.5 L598.0,1201.1 L599.0,1230.6 L600.1,1207.0 L601.2,1247.7 L602.2,1183.1 L603.2,1232.6 L604.3,1202.4 L605.4,1242.1 L606.4,1208.5 L607.5,1228.2 L608.5,1181.8 L609.5,1245.1 L610.6,1194.9 L611.7,1259.0 L612.7,1184.4 L613.8,1242.9 L614.8,1194.8 L615.9,1244.6 L616.9,1186.5 L618.0,1241.5 L619.0,1164.3 L620.0,1266.5 L621.1,1187.9 L622.2,1224.7 L623.2,1186.7 L624.2,1231.8 L625.3,1166.8 L626.4,1240.2 L627.4,1177.1 L628.5,1222.0 L629.5,1175.3 L630.5,1226.3 L631.6,1150.3 L632.7,1224.7 L633.7,1145.3 L634.8,1243.9 L635.8,1161.2 L636.9,1236.7 L637.9,1133.4 L639.0,1207.7 L640.0,1132.2 L641.0,1201.1 L642.1,1128.6 L643.2,1206.3 L644.2,1117.6 L645.2,1185.3 L646.3,1113.8 L647.4,1179.3 L648.4,1105.8 L649.5,1162.7 L650.5,1102.6 L651.5,1171.8 L652.6,1069.7 L653.7,1164.1 L654.7,1066.9 L655.8,1130.0 L656.8,1046.5 L657.9,1107.5 L658.9,1024.3 L660.0,1063.3 L661.0,994.5 L662.0,1048.6 L663.1,981.3 L664.2,1031.8 L665.2,952.8 L666.2,1032.6 L667.3,968.8 L668.4,1047.3 L669.4,957.7 L670.5,1046.9 L671.5,978.7 L672.5,1069.4 L673.6,1025.8 L674.7,1103.7 L675.7,1051.1 L676.8,1153.2 L677.8,1072.4 L678.9,1147.4 L679.9,1062.9 L681.0,1168.1 L682.0,1166.2 L683.0,1186.0 L684.1,1171.5 L685.2,1200.8 L686.2,1176.8 L687.2,1208.1 L688.3,1182.4 L689.4,1218.1 L690.4,1177.8 L691.5,1221.1 L692.5,1178.5 L693.6,1226.2 L694.6,1182.0 L695.6,1228.3 L696.7,1183.5 L697.8,1237.9 L698.8,1183.1 L699.9,1245.8 L700.9,1192.8 L702.0,1246.4 L703.0,1210.2 L704.1,1241.2 L705.1,1213.4 L706.1,1255.2 L707.2,1186.8 L708.2,1270.2 L709.3,1210.7 L710.4,1236.6 L711.4,1201.3 L712.5,1248.3 L713.5,1209.5 L714.6,1241.8 L715.6,1183.1 L716.6,1241.2 L717.7,1188.0 L718.8,1259.0 L719.8,1193.5 L720.9,1279.0 L721.9,1173.1 L723.0,1248.9 L724.0,1209.8 L725.1,1261.7 L726.1,1207.7 L727.1,1267.8 L728.2,1203.0 L729.2,1263.6 L730.3,1215.1 L731.4,1282.7 L732.4,1238.4 L733.5,1302.7 L734.5,1214.3 L735.6,1284.0 L736.6,1233.8 L737.6,1272.2 L738.7,1233.8 L739.8,1270.7 L740.8,1235.5 L741.9,1271.1 L742.9,1227.0 L744.0,1305.2 L745.0,1186.8 L746.1,1263.0 L747.1,1218.9 L748.1,1270.4 L749.2,1225.8 L750.2,1277.8 L751.3,1221.8 L752.4,1263.8 L753.4,1239.0 L754.5,1285.2 L755.5,1242.4 L756.6,1278.0 L757.6,1240.4 L758.6,1288.6 L759.7,1247.1 L760.8,1289.8 L761.8,1221.8 L762.9,1282.0 L763.9,1242.0 L765.0,1312.7 L766.0,1198.0 L767.1,1308.9 L768.1,1210.4 L769.1,1284.2 L770.2,1242.0 L771.2,1270.6 L772.3,1234.0 L773.4,1276.1 L774.4,1214.3 L775.5,1307.7 L776.5,1236.9 L777.6,1291.2 L778.6,1251.9 L779.6,1302.7 L780.7,1251.7 L781.8,1283.9 L782.8,1239.3 L783.9,1283.6 L784.9,1238.7 L786.0,1276.2 L787.0,1210.5 L788.1,1261.6 L789.1,1222.7 L790.1,1285.2 L791.2,1232.5 L792.2,1260.7 L793.3,1222.2 L794.4,1276.1 L795.4,1228.4 L796.5,1273.1 L797.5,1218.0 L798.6,1293.9 L799.6,1193.0 L800.6,1307.7 L801.7,1242.0 L802.8,1285.4 L803.8,1230.5 L804.9,1293.0 L805.9,1244.6 L807.0,1277.1 L808.0,1238.2 L809.1,1270.6 L810.1,1246.1 L811.1,1269.2 L812.2,1239.5 L813.2,1279.4 L814.3,1213.0 L815.4,1290.2 L816.4,1244.8 L817.5,1272.2 L818.5,1238.4 L819.6,1281.0 L820.6,1256.0 L821.6,1295.7 L822.7,1234.3 L823.8,1315.2 L824.8,1245.4 L825.9,1283.3 L826.9,1241.1 L828.0,1284.8 L829.0,1249.8 L830.1,1291.4 L831.1,1223.0 L832.1,1275.2 L833.2,1231.4 L834.2,1282.6 L835.3,1226.2 L836.4,1272.4 L837.4,1203.0 L838.5,1270.6 L839.5,1223.4 L840.6,1287.7 L841.6,1218.9 L842.6,1272.6 L843.7,1223.2 L844.8,1280.0 L845.8,1228.0 L846.9,1270.2 L847.9,1228.2 L849.0,1292.7 L850.0,1203.0 L851.1,1267.4 L852.1,1226.4 L853.1,1277.7 L854.2,1239.0 L855.2,1266.5 L856.3,1238.9 L857.4,1291.4 L858.4,1247.5 L859.5,1268.8 L860.5,1229.3 L861.6,1274.8 L862.6,1246.0 L863.6,1281.6 L864.7,1252.2 L865.8,1278.9 L866.8,1255.5 L867.9,1303.9 L868.9,1252.5 L870.0,1279.2 L871.0,1231.8 L872.1,1274.6 L873.1,1237.8 L874.1,1270.1 L875.2,1225.5 L876.2,1271.8 L877.3,1200.5 L878.4,1260.8 L879.4,1225.6 L880.5,1285.2 L881.5,1236.6 L882.6,1290.2 L883.6,1211.8 L884.6,1268.8 L885.7,1228.8 L886.8,1274.3 L887.8,1233.8 L888.9,1269.9 L889.9,1216.7 L891.0,1270.2 L892.0,1225.7 L893.1,1298.9 L894.1,1189.3 L895.1,1273.1 L896.2,1197.9 L897.2,1269.4 L898.3,1203.7 L899.4,1250.6 L900.4,1195.4 L901.5,1275.2 L902.5,1171.8 L903.6,1248.0 L904.6,1188.1 L905.6,1267.7 L906.7,1191.5 L907.8,1246.5 L908.8,1161.8 L909.9,1240.3 L910.9,1188.9 L912.0,1251.4 L913.0,1179.6 L914.1,1242.9 L915.1,1194.5 L916.1,1264.0 L917.2,1173.1 L918.2,1248.6 L919.3,1207.5 L920.4,1238.6 L921.4,1205.8 L922.5,1275.2 L923.5,1205.5 L924.6,1260.9 L925.6,1217.4 L926.6,1260.2 L927.7,1222.1 L928.8,1265.6 L929.8,1218.6 L930.9,1254.9 L931.9,1219.3 L933.0,1267.3 L934.0,1204.3 L935.1,1266.6 L936.1,1230.0 L937.1,1284.0 L938.2,1229.8 L939.2,1287.7 L940.3,1233.4 L941.4,1266.6 L942.4,1210.5 L943.5,1275.4 L944.5,1223.4 L945.6,1287.5 L946.6,1242.5 L947.6,1283.3 L948.7,1216.8 L949.8,1300.2 L950.8,1243.5 L951.9,1290.1 L952.9,1250.0 L954.0,1298.7 L955.0,1244.9 L956.1,1328.9 L957.1,1225.5 L958.1,1292.3 L959.2,1256.4 L960.2,1289.3 L961.3,1256.6 L962.4,1307.3 L963.4,1253.2 L964.5,1285.9 L965.5,1239.7 L966.6,1284.1 L967.6,1247.2 L968.6,1282.2 L969.7,1219.3 L970.8,1275.8 L971.8,1248.9 L972.9,1301.4 L973.9,1237.7 L975.0,1297.8 L976.0,1239.4 L977.1,1278.5 L978.1,1213.0 L979.1,1293.7 L980.2,1233.9 L981.2,1318.9 L982.3,1247.8 L983.4,1289.1 L984.4,1238.1 L985.5,1306.4 L986.5,1220.5 L987.6,1278.7 L988.6,1240.1 L989.7,1285.5 L990.7,1242.1 L991.8,1291.3 L992.8,1246.2 L993.9,1289.3 L994.9,1239.3 L996.0,1312.7 L997.0,1265.1 L998.1,1289.3 L999.1,1262.3 L1000.2,1301.5 L1001.2,1265.9 L1002.2,1293.6 L1003.3,1264.3 L1004.4,1292.9 L1005.4,1260.3 L1006.5,1300.7 L1007.5,1236.8 L1008.6,1315.2 L1009.6,1254.5 L1010.7,1291.6 L1011.7,1270.2 L1012.8,1295.6 L1013.8,1259.4 L1014.9,1308.7 L1015.9,1265.3 L1017.0,1298.8 L1018.0,1264.6 L1019.1,1315.2 L1020.1,1256.7 L1021.2,1307.0 L1022.2,1266.8 L1023.2,1299.0 L1024.3,1269.0 L1025.3,1309.2 L1026.4,1264.7 L1027.5,1314.3 L1028.5,1254.8 L1029.6,1327.7 L1030.6,1239.3 L1031.7,1293.8 L1032.7,1255.4 L1033.8,1302.7 L1034.8,1250.3 L1035.8,1296.1 L1036.9,1238.0 L1038.0,1298.7 L1039.0,1257.7 L1040.1,1310.2 L1041.1,1243.0 L1042.2,1291.7 L1043.2,1258.2 L1044.2,1300.4 L1045.3,1256.1 L1046.3,1289.9 L1047.4,1259.7 L1048.5,1307.6 L1049.5,1245.5 L1050.6,1301.5 L1051.6,1258.7 L1052.7,1322.7 L1053.7,1259.2 L1054.8,1312.7 L1055.8,1241.8 L1056.8,1289.0 L1057.9,1250.4 L1059.0,1306.4 L1060.0,1272.7 L1061.1,1305.9 L1062.1,1274.7 L1063.2,1303.1 L1064.2,1263.3 L1065.2,1315.1 L1066.3,1248.0 L1067.3,1315.1 L1068.4,1273.9 L1069.5,1331.4 L1070.5,1273.3 L1071.6,1315.2 L1072.6,1270.5 L1073.7,1299.1 L1074.7,1279.5 L1075.8,1304.4 L1076.8,1271.7 L1077.8,1298.2 L1078.9,1275.8 L1080.0,1298.2 L1081.0,1256.7 L1082.1,1310.2 L1083.1,1268.6 L1084.2,1298.9 L1085.2,1253.8 L1086.2,1291.9 L1087.3,1241.8 L1088.3,1312.7 L1089.4,1266.1 L1090.5,1330.2 L1091.5,1249.3 L1092.6,1304.1 L1093.6,1279.6 L1094.7,1319.5 L1095.7,1281.0 L1096.8,1305.7 L1097.8,1282.2 L1098.8,1326.2 L1099.9,1251.8 L1101.0,1342.7 L1102.0,1282.8 L1103.1,1345.2 L1104.1,1274.3 L1105.2,1331.1 L1106.2,1263.0 L1107.2,1322.2 L1108.3,1294.5 L1109.3,1328.4 L1110.4,1286.5 L1111.5,1363.9 L1112.5,1269.2 L1113.6,1347.7 L1114.6,1280.6 L1115.7,1336.1 L1116.7,1211.8 L1117.8,1314.3 L1118.8,1253.9 L1119.8,1308.4 L1120.9,1241.7 L1122.0,1319.3 L1123.0,1255.5 L1124.1,1312.0 L1125.1,1265.5 L1126.2,1330.2 L1127.2,1233.0 L1128.2,1316.0 L1129.3,1276.1 L1130.3,1321.1 L1131.4,1278.0 L1132.5,1334.2 L1133.5,1284.9 L1134.6,1351.4 L1135.6,1276.7 L1136.7,1317.6 L1137.7,1287.0 L1138.8,1332.7 L1139.8,1269.2 L1140.8,1314.7 L1141.9,1284.2 L1143.0,1323.9 L1144.0,1293.2 L1145.1,1336.0 L1146.1,1291.9 L1147.2,1339.1 L1148.2,1266.7 L1149.2,1318.8 L1150.3,1274.9 L1151.3,1360.1 L1152.4,1275.7 L1153.5,1312.4 L1154.5,1271.1 L1155.6,1298.0 L1156.6,1243.0 L1157.7,1327.7 L1158.7,1265.5 L1159.8,1312.0 L1160.8,1275.6 L1161.8,1312.1 L1162.9,1261.7 L1164.0,1322.7 L1165.0,1277.8 L1166.1,1319.9 L1167.1,1280.4 L1168.2,1315.3 L1169.2,1292.5 L1170.2,1318.6 L1171.3,1299.8 L1172.3,1346.4 L1173.4,1276.7 L1174.5,1304.3 L1175.5,1240.5 L1176.6,1300.2 L1177.6,1264.1 L1178.7,1317.7 L1179.7,1253.4 L1180.8,1293.6 L1181.8,1238.0 L1182.8,1294.9 L1183.9,1263.7 L1185.0,1312.7 L1186.0,1260.5 L1187.1,1335.2 L1188.1,1266.7 L1189.2,1317.6 L1190.2,1275.6 L1191.2,1320.9 L1192.3,1276.2 L1193.3,1310.5 L1194.4,1279.0 L1195.5,1315.9 L1196.5,1250.5 L1197.6,1337.7 L1198.6,1281.6 L1199.7,1316.1 L1200.7,1283.7 L1201.8,1315.2 L1202.8,1282.1 L1203.9,1321.4 L1204.9,1285.7 L1206.0,1311.0 L1207.0,1270.5 L1208.0,1320.3 L1209.1,1282.4 L1210.2,1332.7 L1211.2,1279.0 L1212.2,1315.9 L1213.3,1282.6 L1214.4,1330.2 L1215.4,1282.8 L1216.5,1321.0 L1217.5,1250.5 L1218.5,1314.1 L1219.6,1279.1 L1220.7,1309.1 L1221.7,1259.0 L1222.8,1321.3 L1223.8,1277.7 L1224.9,1312.5 L1225.9,1275.3 L1227.0,1340.2 L1228.0,1251.8 L1229.0,1325.8 L1230.1,1265.4 L1231.2,1323.5 L1232.2,1259.3 L1233.2,1303.1 L1234.3,1271.9 L1235.4,1332.7 L1236.4,1261.3 L1237.5,1300.2 L1238.5,1229.3 L1239.5,1309.9 L1240.6,1265.6 L1241.7,1304.1 L1242.7,1261.6 L1243.8,1327.7 L1244.8,1276.4 L1245.9,1300.1 L1246.9,1251.8 L1248.0,1316.8 L1249.0,1280.0 L1250.0,1345.2 L1251.1,1288.2 L1252.2,1323.8 L1253.2,1273.0 L1254.2,1320.7 L1255.3,1280.1 L1256.4,1316.3 L1257.4,1293.5 L1258.5,1316.4 L1259.5,1276.7 L1260.5,1322.7 L1261.6,1293.3 L1262.7,1314.0 L1263.7,1289.7 L1264.8,1373.9 L1265.8,1291.5 L1266.9,1346.2 L1267.9,1256.7 L1269.0,1348.0 L1270.0,1289.4 L1271.0,1338.9 L1272.1,1280.6 L1273.2,1335.0 L1274.2,1281.9 L1275.2,1322.6 L1276.3,1270.5 L1277.4,1338.1 L1278.4,1274.5 L1279.5,1340.2 L1280.5,1292.3 L1281.5,1346.8 L1282.6,1259.2 L1283.7,1360.1 L1284.7,1293.4 L1285.8,1391.4 L1286.8,1286.2 L1287.9,1320.1 L1288.9,1265.5 L1290.0,1315.3 L1291.0,1282.8 L1292.0,1325.2 L1293.1,1273.8 L1294.2,1318.1 L1295.2,1254.2 L1296.2,1309.4 L1297.3,1287.8 L1298.4,1332.7 L1299.4,1283.6 L1300.5,1337.3 L1301.5,1297.7 L1302.5,1338.9 L1303.6,1293.4 L1304.7,1343.3 L1305.7,1289.2 L1306.8,1349.0 L1307.8,1296.8 L1308.9,1362.6 L1309.9,1245.5 L1311.0,1342.7 L1312.0,1275.2 L1313.0,1320.3 L1314.1,1269.5 L1315.2,1311.0 L1316.2,1282.5 L1317.2,1313.3 L1318.3,1259.2 L1319.4,1341.4 L1320.4,1287.3 L1321.5,1317.6 L1322.5,1281.5 L1323.5,1325.2 L1324.6,1261.7 L1325.7,1307.1 L1326.7,1274.9 L1327.8,1312.0 L1328.8,1288.4 L1329.9,1345.2 L1330.9,1259.2 L1332.0,1310.2 L1333.0,1255.9 L1334.0,1307.0 L1335.1,1231.8 L1336.2,1280.9 L1337.2,1246.6 L1338.2,1281.6 L1339.3,1241.1 L1340.4,1286.5 L1341.4,1221.8 L1342.5,1302.7 L1343.5,1250.4 L1344.5,1291.1 L1345.6,1253.7 L1346.7,1320.2 L1347.7,1239.0 L1348.8,1298.4 L1349.8,1221.8 L1350.9,1322.7 L1351.9,1265.9 L1353.0,1301.9 L1354.0,1251.8 L1355.0,1310.1 L1356.1,1277.3 L1357.2,1317.2 L1358.2,1276.1 L1359.2,1332.7 L1360.3,1272.1 L1361.4,1342.9 L1362.4,1249.3 L1363.5,1370.1 L1364.5,1279.8 L1365.5,1327.9 L1366.6,1291.4 L1367.7,1331.5 L1368.7,1281.5 L1369.8,1345.2 L1370.8,1258.0 L1371.9,1322.9 L1372.9,1292.8 L1374.0,1334.0 L1375.0,1293.1 L1376.0,1347.7 L1377.1,1274.2 L1378.2,1333.2 L1379.2,1291.3 L1380.2,1329.9 L1381.3,1298.1 L1382.4,1337.7 L1383.4,1305.6 L1384.5,1331.5 L1385.5,1290.5 L1386.5,1324.6 L1387.6,1304.5 L1388.7,1322.6 L1389.7,1301.7 L1390.8,1326.5 L1391.8,1303.8 L1392.9,1335.5 L1393.9,1294.4 L1395.0,1352.6 L1396.0,1278.0 L1397.0,1332.7 L1398.1,1301.7 L1399.2,1343.3 L1400.2,1301.2 L1401.2,1340.5 L1402.3,1311.6 L1403.4,1365.1 L1404.4,1285.5 L1405.5,1347.8 L1406.5,1305.2 L1407.5,1386.4 L1408.6,1314.2 L1409.7,1353.4 L1410.7,1296.7 L1411.8,1358.6 L1412.8,1243.0 L1413.9,1337.0 L1414.9,1285.7 L1416.0,1367.6 L1417.0,1290.8 L1418.0,1337.9 L1419.1,1302.6 L1420.2,1345.1 L1421.2,1301.9 L1422.2,1357.6 L1423.3,1284.2 L1424.4,1335.8 L1425.4,1303.4 L1426.5,1338.5 L1427.5,1311.7 L1428.5,1358.9 L1429.6,1300.5 L1430.7,1345.0 L1431.7,1318.4 L1432.8,1343.9 L1433.8,1307.0 L1434.9,1346.6 L1435.9,1288.0 L1437.0,1352.6 L1438.0,1310.1 L1439.0,1367.6 L1440.1,1310.7 L1441.2,1355.1 L1442.2,1306.2 L1443.2,1349.5 L1444.3,1296.7 L1445.4,1345.2 L1446.4,1311.6 L1447.5,1341.8 L1448.5,1305.4 L1449.5,1356.0 L1450.6,1321.9 L1451.7,1368.9 L1452.7,1306.2 L1453.8,1365.1 L1454.8,1278.0 L1455.9,1352.6 L1456.9,1303.0 L1458.0,1368.9 L1459.0,1296.7 L1460.0,1341.2 L1461.1,1316.8 L1462.2,1341.5 L1463.2,1306.4 L1464.2,1330.0 L1465.3,1286.7 L1466.4,1345.2 L1467.4,1302.3 L1468.5,1342.1 L1469.5,1289.1 L1470.5,1372.6 L1471.6,1291.2 L1472.7,1349.2 L1473.7,1261.7 L1474.8,1346.0 L1475.8,1282.2 L1476.9,1343.8 L1477.9,1255.5 L1479.0,1347.7 L1480.0,1299.2 L1481.0,1386.4 L1482.1,1303.3 L1483.2,1347.7 L1484.2,1280.5 L1485.2,1329.6 L1486.3,1293.8 L1487.4,1341.1 L1488.4,1299.3 L1489.5,1345.8 L1490.5,1274.2 L1491.5,1352.4 L1492.6,1287.9 L1493.7,1367.6 L1494.7,1256.7 L1495.8,1325.3 L1496.8,1280.2 L1497.9,1355.1 L1498.9,1274.8 L1500.0,1339.0 L1501.0,1285.7 L1502.0,1350.1 L1503.1,1268.0 L1504.2,1312.2 L1505.2,1284.4 L1506.2,1322.7 L1507.3,1265.7 L1508.4,1313.7 L1509.4,1246.8 L1510.5,1295.2 L1511.5,1263.5 L1512.5,1289.1 L1513.6,1226.8 L1514.7,1310.2 L1515.7,1243.1 L1516.8,1279.0 L1517.8,1231.9 L1518.9,1294.6 L1519.9,1199.3 L1521.0,1312.7 L1522.0,1229.2 L1523.0,1278.0 L1524.1,1246.3 L1525.2,1278.2 L1526.2,1231.3 L1527.2,1299.3 L1528.3,1216.8 L1529.4,1293.0 L1530.4,1258.7 L1531.5,1317.7 L1532.5,1251.5 L1533.5,1318.9 L1534.6,1249.3 L1535.7,1295.8 L1536.7,1274.6 L1537.8,1316.0 L1538.8,1281.4 L1539.9,1355.1 L1540.9,1269.2 L1542.0,1343.9 L1543.0,1290.3 L1544.0,1365.1 L1545.1,1280.5 L1546.2,1339.0 L1547.2,1298.4 L1548.2,1340.9 L1549.3,1294.0 L1550.4,1329.1 L1551.4,1293.2 L1552.5,1333.1 L1553.5,1260.5 L1554.5,1324.5 L1555.6,1305.3 L1556.7,1350.1 L1557.7,1304.2 L1558.8,1356.4 L1559.8,1314.0 L1560.9,1339.2 L1561.9,1311.6 L1563.0,1334.6 L1564.0,1315.6 L1565.0,1341.4 L1566.1,1314.7 L1567.2,1345.2 L1568.2,1300.5 L1569.2,1346.4 L1570.3,1294.2 L1571.4,1327.4 L1572.4,1308.9 L1573.5,1331.2 L1574.5,1311.8 L1575.5,1339.1 L1576.6,1311.7 L1577.7,1337.7 L1578.7,1312.9 L1579.8,1335.7 L1580.8,1298.0 L1581.9,1347.7 L1582.9,1313.0 L1584.0,1345.6 L1585.0,1315.4 L1586.0,1368.9 L1587.1,1321.6 L1588.2,1349.1 L1589.2,1314.2 L1590.2,1360.5 L1591.3,1332.8 L1592.4,1356.3 L1593.4,1330.1 L1594.5,1344.6 L1595.5,1319.2 L1596.5,1351.0 L1597.6,1327.6 L1598.7,1357.6 L1599.7,1315.8 L1600.8,1356.6 L1601.8,1294.2 L1602.9,1352.8 L1603.9,1299.3 L1605.0,1377.6 L1606.0,1315.5 L1607.0,1342.8 L1608.1,1286.7 L1609.2,1350.9 L1610.2,1321.2 L1611.2,1360.1 L1612.3,1326.3 L1613.4,1386.4 L1614.4,1311.7 L1615.5,1360.2 L1616.5,1326.5 L1617.5,1372.6 L1618.6,1313.2 L1619.7,1339.2 L1620.7,1273.0 L1621.8,1350.7 L1622.8,1298.2 L1623.9,1343.3 L1624.9,1316.4 L1626.0,1348.3 L1627.0,1315.1 L1628.0,1359.8 L1629.1,1298.0 L1630.2,1372.6 L1631.2,1314.6 L1632.2,1358.5 L1633.3,1318.8 L1634.4,1364.7 L1635.4,1317.8 L1636.5,1357.6 L1637.5,1301.7 L1638.5,1387.6 L1639.6,1317.0 L1640.7,1370.1 L1641.7,1283.0 L1642.8,1344.3 L1643.8,1318.1 L1644.9,1359.6 L1645.9,1326.7 L1647.0,1372.6 L1648.0,1337.7 L1649.0,1357.9 L1650.1,1331.0 L1651.2,1346.5 L1652.2,1306.7 L1653.2,1367.6 L1654.3,1327.0 L1655.4,1358.7 L1656.4,1317.8 L1657.5,1356.9 L1658.5,1321.5 L1659.5,1376.4 L1660.6,1305.4 L1661.7,1362.9 L1662.7,1318.6 L1663.8,1350.5 L1664.8,1323.7 L1665.9,1365.9 L1666.9,1316.1 L1668.0,1363.4 L1669.0,1314.5 L1670.0,1358.4 L1671.1,1329.7 L1672.2,1359.8 L1673.2,1325.2 L1674.2,1377.6 L1675.3,1304.2 L1676.4,1353.0 L1677.4,1328.0 L1678.5,1353.2 L1679.5,1338.3 L1680.5,1353.4 L1681.6,1331.7 L1682.7,1360.7 L1683.7,1343.3 L1684.8,1365.1 L1685.8,1335.0 L1686.9,1367.4 L1687.9,1317.9 L1689.0,1369.2 L1690.0,1326.0 L1691.0,1390.1 L1692.1,1338.6 L1693.2,1370.0 L1694.2,1341.9 L1695.2,1398.8 L1696.3,1322.9 L1697.4,1370.4 L1698.4,1344.2 L1699.5,1385.1 L1700.5,1312.9 L1701.5,1361.5 L1702.6,1334.8 L1703.7,1360.1 L1704.7,1338.6 L1705.8,1354.2 L1706.8,1321.7 L1707.9,1359.6 L1708.9,1322.3 L1710.0,1370.1 L1711.0,1309.4 L1712.0,1392.6 L1713.1,1285.5 L1714.2,1357.8 L1715.2,1326.5 L1716.2,1366.6 L1717.3,1323.7 L1718.4,1354.6 L1719.4,1315.4 L1720.5,1377.6 L1721.5,1326.6 L1722.5,1361.5 L1723.6,1323.3 L1724.7,1365.9 L1725.7,1332.9 L1726.8,1371.3 L1727.8,1331.6 L1728.9,1361.1 L1729.9,1300.5 L1731.0,1377.9 L1732.0,1339.9 L1733.0,1392.6 L1734.1,1314.2 L1735.2,1372.8 L1736.2,1341.8 L1737.2,1398.8 L1738.3,1339.0 L1739.4,1366.7 L1740.4,1332.6 L1741.5,1378.9 L1742.5,1321.7 L1743.5,1366.4 L1744.6,1309.2 L1745.7,1372.6 L1746.7,1317.8 L1747.8,1352.5 L1748.8,1322.1 L1749.9,1358.9 L1750.9,1320.0 L1752.0,1360.3 L1753.0,1329.2"/>
</g>
<g stroke="#000" fill="none">
<path d="M178,1434 L178,30.9 L1752.9,30.9 L1752.9,1434" stroke-width="11.8" stroke-linejoin="round"/>
<line x1="155" y1="1407.7" x2="1758.6" y2="1407.7" stroke-width="10.4"/>
<g stroke-width="11.4">
<line x1="336.1" y1="1407" x2="336.1" y2="1433.5"/>
<line x1="493.6" y1="1407" x2="493.6" y2="1433.5"/>
<line x1="651.1" y1="1407" x2="651.1" y2="1433.5"/>
<line x1="808.6" y1="1407" x2="808.6" y2="1433.5"/>
<line x1="966.1" y1="1407" x2="966.1" y2="1433.5"/>
<line x1="1123.6" y1="1407" x2="1123.6" y2="1433.5"/>
<line x1="1281.1" y1="1407" x2="1281.1" y2="1433.5"/>
<line x1="1438.6" y1="1407" x2="1438.6" y2="1433.5"/>
<line x1="1596.1" y1="1407" x2="1596.1" y2="1433.5"/>
<line x1="257.4" y1="1407" x2="257.4" y2="1427.5"/>
<line x1="414.9" y1="1407" x2="414.9" y2="1427.5"/>
<line x1="572.4" y1="1407" x2="572.4" y2="1427.5"/>
<line x1="729.9" y1="1407" x2="729.9" y2="1427.5"/>
<line x1="887.4" y1="1407" x2="887.4" y2="1427.5"/>
<line x1="1044.8" y1="1407" x2="1044.8" y2="1427.5"/>
<line x1="1202.3" y1="1407" x2="1202.3" y2="1427.5"/>
<line x1="1359.8" y1="1407" x2="1359.8" y2="1427.5"/>
<line x1="1517.3" y1="1407" x2="1517.3" y2="1427.5"/>
<line x1="1674.8" y1="1407" x2="1674.8" y2="1427.5"/>
</g></g>
<g font-size="79" text-anchor="middle">
<text x="178.5" y="1540.5" textLength="77.5" lengthAdjust="spacingAndGlyphs">20</text>
<text x="336.0" y="1540.5" textLength="77.5" lengthAdjust="spacingAndGlyphs">25</text>
<text x="493.5" y="1540.5" textLength="77.5" lengthAdjust="spacingAndGlyphs">30</text>
<text x="651.0" y="1540.5" textLength="77.5" lengthAdjust="spacingAndGlyphs">35</text>
<text x="808.5" y="1540.5" textLength="77.5" lengthAdjust="spacingAndGlyphs">40</text>
<text x="966.0" y="1540.5" textLength="77.5" lengthAdjust="spacingAndGlyphs">45</text>
<text x="1123.5" y="1540.5" textLength="77.5" lengthAdjust="spacingAndGlyphs">50</text>
<text x="1281.0" y="1540.5" textLength="77.5" lengthAdjust="spacingAndGlyphs">55</text>
<text x="1438.5" y="1540.5" textLength="77.5" lengthAdjust="spacingAndGlyphs">60</text>
<text x="1596.0" y="1540.5" textLength="77.5" lengthAdjust="spacingAndGlyphs">65</text>
<text x="1753.5" y="1540.5" textLength="77.5" lengthAdjust="spacingAndGlyphs">70</text>
</g>
<text x="764.5" y="1668.5" font-size="86" textLength="405" lengthAdjust="spacingAndGlyphs">2 Theta [°]</text>
<text transform="translate(79.5,1033) rotate(-90)" font-size="90" textLength="581.5" lengthAdjust="spacingAndGlyphs">Intensity [a.u.]</text>
<g font-size="63">
<text x="415.3" y="94.8" textLength="139.5" lengthAdjust="spacingAndGlyphs">(220)</text>
<text x="592.0" y="94.8" textLength="139.5" lengthAdjust="spacingAndGlyphs">(311)</text>
<text x="838.7" y="92.1" textLength="139.5" lengthAdjust="spacingAndGlyphs">(400)</text>
<text x="1165.3" y="98.8" textLength="139.5" lengthAdjust="spacingAndGlyphs">(422)</text>
<text x="1313.7" y="102.1" textLength="139.5" lengthAdjust="spacingAndGlyphs">(511)</text>
<text x="1468.0" y="106.5" textLength="139.5" lengthAdjust="spacingAndGlyphs">(440)</text>
</g>
<g font-size="66">
<text x="811" y="427.5" textLength="297" lengthAdjust="spacingAndGlyphs">Ferrofluid</text>
<text x="721.6" y="845.5" textLength="562" lengthAdjust="spacingAndGlyphs">A, Magnetic lignite</text>
<text x="724.9" y="1135" textLength="489" lengthAdjust="spacingAndGlyphs">B, Magnetic char</text>
</g>
</svg></body></html>
